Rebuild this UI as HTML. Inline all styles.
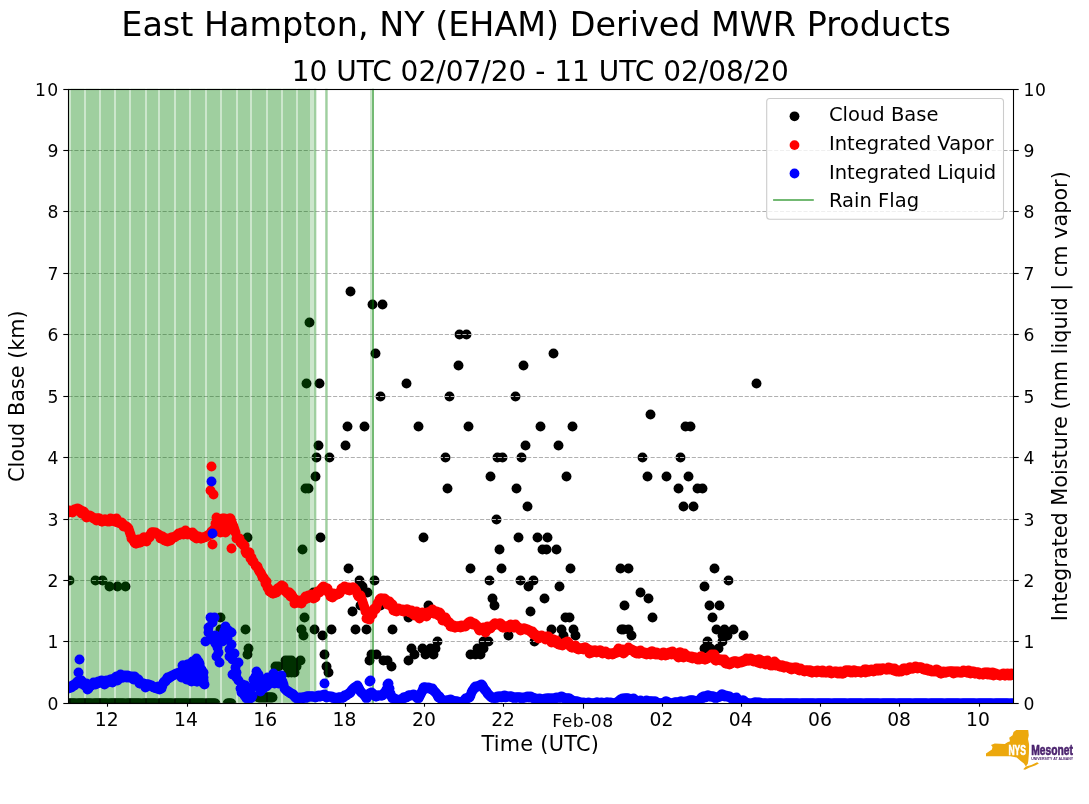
<!DOCTYPE html>
<html lang="en"><head><meta charset="utf-8"><title>East Hampton, NY (EHAM) Derived MWR Products</title>
<style>html,body{margin:0;padding:0;background:#fff;}svg{display:block;}text{font-family:"DejaVu Sans","Liberation Sans",sans-serif;fill:#000;}</style></head><body>
<svg width="1089" height="804" viewBox="0 0 1089 804">
<rect width="1089" height="804" fill="#fff"/>
<defs><clipPath id="ax"><rect x="68.4" y="88.8" width="944.6" height="614.0"/></clipPath></defs>
<g clip-path="url(#ax)">
<g fill="#000">
<circle cx="68.5" cy="703.5" r="4.95"/><circle cx="69.5" cy="703.5" r="4.95"/><circle cx="70.5" cy="703.5" r="4.95"/><circle cx="71.5" cy="703.5" r="4.95"/><circle cx="72.5" cy="703.5" r="4.95"/><circle cx="73.5" cy="703.5" r="4.95"/><circle cx="74.5" cy="703.5" r="4.95"/><circle cx="75.5" cy="703.5" r="4.95"/>
<circle cx="77.5" cy="703.5" r="4.95"/><circle cx="78.5" cy="703.5" r="4.95"/><circle cx="79.5" cy="703.5" r="4.95"/><circle cx="80.5" cy="703.5" r="4.95"/><circle cx="81.5" cy="703.5" r="4.95"/><circle cx="82.5" cy="703.5" r="4.95"/><circle cx="83.5" cy="703.5" r="4.95"/><circle cx="84.5" cy="703.5" r="4.95"/>
<circle cx="85.5" cy="703.5" r="4.95"/><circle cx="86.5" cy="703.5" r="4.95"/><circle cx="87.5" cy="703.5" r="4.95"/><circle cx="88.5" cy="703.5" r="4.95"/><circle cx="89.5" cy="703.5" r="4.95"/><circle cx="90.5" cy="703.5" r="4.95"/><circle cx="91.5" cy="703.5" r="4.95"/><circle cx="93.5" cy="703.5" r="4.95"/>
<circle cx="94.5" cy="703.5" r="4.95"/><circle cx="95.5" cy="703.5" r="4.95"/><circle cx="96.5" cy="703.5" r="4.95"/><circle cx="97.5" cy="703.5" r="4.95"/><circle cx="98.5" cy="703.5" r="4.95"/><circle cx="99.5" cy="703.5" r="4.95"/><circle cx="100.5" cy="703.5" r="4.95"/><circle cx="101.5" cy="703.5" r="4.95"/>
<circle cx="102.5" cy="703.5" r="4.95"/><circle cx="103.5" cy="703.5" r="4.95"/><circle cx="104.5" cy="703.5" r="4.95"/><circle cx="105.5" cy="703.5" r="4.95"/><circle cx="106.5" cy="703.5" r="4.95"/><circle cx="107.5" cy="703.5" r="4.95"/><circle cx="109.5" cy="703.5" r="4.95"/><circle cx="110.5" cy="703.5" r="4.95"/>
<circle cx="111.5" cy="703.5" r="4.95"/><circle cx="112.5" cy="703.5" r="4.95"/><circle cx="113.5" cy="703.5" r="4.95"/><circle cx="114.5" cy="703.5" r="4.95"/><circle cx="115.5" cy="703.5" r="4.95"/><circle cx="116.5" cy="703.5" r="4.95"/><circle cx="117.5" cy="703.5" r="4.95"/><circle cx="118.5" cy="703.5" r="4.95"/>
<circle cx="119.5" cy="703.5" r="4.95"/><circle cx="120.5" cy="703.5" r="4.95"/><circle cx="121.5" cy="703.5" r="4.95"/><circle cx="122.5" cy="703.5" r="4.95"/><circle cx="123.5" cy="703.5" r="4.95"/><circle cx="124.5" cy="703.5" r="4.95"/><circle cx="126.5" cy="703.5" r="4.95"/><circle cx="127.5" cy="703.5" r="4.95"/>
<circle cx="128.5" cy="703.5" r="4.95"/><circle cx="129.5" cy="703.5" r="4.95"/><circle cx="130.5" cy="703.5" r="4.95"/><circle cx="131.5" cy="703.5" r="4.95"/><circle cx="132.5" cy="703.5" r="4.95"/><circle cx="133.5" cy="703.5" r="4.95"/><circle cx="134.5" cy="703.5" r="4.95"/><circle cx="135.5" cy="703.5" r="4.95"/>
<circle cx="136.5" cy="703.5" r="4.95"/><circle cx="137.5" cy="703.5" r="4.95"/><circle cx="138.5" cy="703.5" r="4.95"/><circle cx="139.5" cy="703.5" r="4.95"/><circle cx="140.5" cy="703.5" r="4.95"/><circle cx="142.5" cy="703.5" r="4.95"/><circle cx="143.5" cy="703.5" r="4.95"/><circle cx="144.5" cy="703.5" r="4.95"/>
<circle cx="145.5" cy="703.5" r="4.95"/><circle cx="146.5" cy="703.5" r="4.95"/><circle cx="147.5" cy="703.5" r="4.95"/><circle cx="148.5" cy="703.5" r="4.95"/><circle cx="149.5" cy="703.5" r="4.95"/><circle cx="150.5" cy="703.5" r="4.95"/><circle cx="151.5" cy="703.5" r="4.95"/><circle cx="152.5" cy="703.5" r="4.95"/>
<circle cx="153.5" cy="703.5" r="4.95"/><circle cx="154.5" cy="703.5" r="4.95"/><circle cx="155.5" cy="703.5" r="4.95"/><circle cx="156.5" cy="703.5" r="4.95"/><circle cx="158.5" cy="703.5" r="4.95"/><circle cx="159.5" cy="703.5" r="4.95"/><circle cx="160.5" cy="703.5" r="4.95"/><circle cx="161.5" cy="703.5" r="4.95"/>
<circle cx="162.5" cy="703.5" r="4.95"/><circle cx="163.5" cy="703.5" r="4.95"/><circle cx="164.5" cy="703.5" r="4.95"/><circle cx="165.5" cy="703.5" r="4.95"/><circle cx="166.5" cy="703.5" r="4.95"/><circle cx="167.5" cy="703.5" r="4.95"/><circle cx="168.5" cy="703.5" r="4.95"/><circle cx="169.5" cy="703.5" r="4.95"/>
<circle cx="170.5" cy="703.5" r="4.95"/><circle cx="171.5" cy="703.5" r="4.95"/><circle cx="172.5" cy="703.5" r="4.95"/><circle cx="174.5" cy="703.5" r="4.95"/><circle cx="175.5" cy="703.5" r="4.95"/><circle cx="176.5" cy="703.5" r="4.95"/><circle cx="177.5" cy="703.5" r="4.95"/><circle cx="178.5" cy="703.5" r="4.95"/>
<circle cx="179.5" cy="703.5" r="4.95"/><circle cx="180.5" cy="703.5" r="4.95"/><circle cx="181.5" cy="703.5" r="4.95"/><circle cx="182.5" cy="703.5" r="4.95"/><circle cx="183.5" cy="703.5" r="4.95"/><circle cx="184.5" cy="703.5" r="4.95"/><circle cx="185.5" cy="703.5" r="4.95"/><circle cx="186.5" cy="703.5" r="4.95"/>
<circle cx="187.5" cy="703.5" r="4.95"/><circle cx="188.5" cy="703.5" r="4.95"/><circle cx="190.5" cy="703.5" r="4.95"/><circle cx="191.5" cy="703.5" r="4.95"/><circle cx="192.5" cy="703.5" r="4.95"/><circle cx="193.5" cy="703.5" r="4.95"/><circle cx="194.5" cy="703.5" r="4.95"/><circle cx="195.5" cy="703.5" r="4.95"/>
<circle cx="196.5" cy="703.5" r="4.95"/><circle cx="197.5" cy="703.5" r="4.95"/><circle cx="198.5" cy="703.5" r="4.95"/><circle cx="199.5" cy="703.5" r="4.95"/><circle cx="200.5" cy="703.5" r="4.95"/><circle cx="201.5" cy="703.5" r="4.95"/><circle cx="202.5" cy="703.5" r="4.95"/><circle cx="203.5" cy="703.5" r="4.95"/>
<circle cx="204.5" cy="703.5" r="4.95"/><circle cx="206.5" cy="703.5" r="4.95"/><circle cx="207.5" cy="703.5" r="4.95"/><circle cx="208.5" cy="703.5" r="4.95"/><circle cx="209.5" cy="703.5" r="4.95"/><circle cx="210.5" cy="703.5" r="4.95"/><circle cx="211.5" cy="703.5" r="4.95"/><circle cx="212.5" cy="703.5" r="4.95"/>
<circle cx="213.5" cy="703.5" r="4.95"/><circle cx="214.5" cy="703.5" r="4.95"/><circle cx="215.5" cy="703.5" r="4.95"/><circle cx="227.5" cy="703.5" r="4.95"/><circle cx="228.5" cy="703.5" r="4.95"/><circle cx="229.5" cy="703.5" r="4.95"/><circle cx="230.5" cy="703.5" r="4.95"/><circle cx="231.5" cy="703.5" r="4.95"/>
<circle cx="258.5" cy="697.5" r="4.95"/><circle cx="259.5" cy="697.5" r="4.95"/><circle cx="260.5" cy="697.5" r="4.95"/><circle cx="261.5" cy="697.5" r="4.95"/><circle cx="262.5" cy="697.5" r="4.95"/><circle cx="263.5" cy="697.5" r="4.95"/><circle cx="264.5" cy="697.5" r="4.95"/><circle cx="265.5" cy="697.5" r="4.95"/>
<circle cx="266.5" cy="697.5" r="4.95"/><circle cx="267.5" cy="697.5" r="4.95"/><circle cx="268.5" cy="697.5" r="4.95"/><circle cx="269.5" cy="697.5" r="4.95"/><circle cx="270.5" cy="697.5" r="4.95"/><circle cx="271.5" cy="697.5" r="4.95"/><circle cx="272.5" cy="697.5" r="4.95"/><circle cx="69.5" cy="580.5" r="4.95"/>
<circle cx="95.5" cy="580.5" r="4.95"/><circle cx="102.5" cy="580.5" r="4.95"/><circle cx="109.5" cy="586.5" r="4.95"/><circle cx="117.5" cy="586.5" r="4.95"/><circle cx="125.5" cy="586.5" r="4.95"/><circle cx="220.5" cy="617.5" r="4.95"/><circle cx="220.5" cy="629.5" r="4.95"/><circle cx="245.5" cy="629.5" r="4.95"/>
<circle cx="248.5" cy="648.5" r="4.95"/><circle cx="247.5" cy="654.5" r="4.95"/><circle cx="247.5" cy="537.5" r="4.95"/><circle cx="275.5" cy="666.5" r="4.95"/><circle cx="278.5" cy="666.5" r="4.95"/><circle cx="285.5" cy="660.5" r="4.95"/><circle cx="288.5" cy="660.5" r="4.95"/><circle cx="291.5" cy="660.5" r="4.95"/>
<circle cx="288.5" cy="672.5" r="4.95"/><circle cx="291.5" cy="672.5" r="4.95"/><circle cx="294.5" cy="672.5" r="4.95"/><circle cx="300.5" cy="660.5" r="4.95"/><circle cx="296.5" cy="666.5" r="4.95"/><circle cx="286.5" cy="666.5" r="4.95"/><circle cx="290.5" cy="666.5" r="4.95"/><circle cx="293.5" cy="666.5" r="4.95"/>
<circle cx="302.5" cy="549.5" r="4.95"/><circle cx="304.5" cy="617.5" r="4.95"/><circle cx="301.5" cy="629.5" r="4.95"/><circle cx="303.5" cy="635.5" r="4.95"/><circle cx="305.5" cy="488.5" r="4.95"/><circle cx="308.5" cy="488.5" r="4.95"/><circle cx="306.5" cy="383.5" r="4.95"/><circle cx="309.5" cy="322.5" r="4.95"/>
<circle cx="313.5" cy="592.5" r="4.95"/><circle cx="314.5" cy="629.5" r="4.95"/><circle cx="315.5" cy="476.5" r="4.95"/><circle cx="316.5" cy="457.5" r="4.95"/><circle cx="318.5" cy="445.5" r="4.95"/><circle cx="319.5" cy="383.5" r="4.95"/><circle cx="320.5" cy="537.5" r="4.95"/><circle cx="322.5" cy="635.5" r="4.95"/>
<circle cx="324.5" cy="654.5" r="4.95"/><circle cx="326.5" cy="666.5" r="4.95"/><circle cx="328.5" cy="672.5" r="4.95"/><circle cx="329.5" cy="457.5" r="4.95"/><circle cx="331.5" cy="629.5" r="4.95"/><circle cx="345.5" cy="445.5" r="4.95"/><circle cx="347.5" cy="426.5" r="4.95"/><circle cx="348.5" cy="568.5" r="4.95"/>
<circle cx="350.5" cy="291.5" r="4.95"/><circle cx="352.5" cy="611.5" r="4.95"/><circle cx="355.5" cy="629.5" r="4.95"/><circle cx="359.5" cy="580.5" r="4.95"/><circle cx="360.5" cy="605.5" r="4.95"/><circle cx="362.5" cy="586.5" r="4.95"/><circle cx="364.5" cy="426.5" r="4.95"/><circle cx="366.5" cy="629.5" r="4.95"/>
<circle cx="367.5" cy="592.5" r="4.95"/><circle cx="369.5" cy="660.5" r="4.95"/><circle cx="371.5" cy="654.5" r="4.95"/><circle cx="372.5" cy="304.5" r="4.95"/><circle cx="374.5" cy="580.5" r="4.95"/><circle cx="375.5" cy="353.5" r="4.95"/><circle cx="376.5" cy="654.5" r="4.95"/><circle cx="380.5" cy="396.5" r="4.95"/>
<circle cx="380.5" cy="605.5" r="4.95"/><circle cx="382.5" cy="304.5" r="4.95"/><circle cx="383.5" cy="660.5" r="4.95"/><circle cx="387.5" cy="660.5" r="4.95"/><circle cx="391.5" cy="666.5" r="4.95"/><circle cx="392.5" cy="629.5" r="4.95"/><circle cx="406.5" cy="383.5" r="4.95"/><circle cx="408.5" cy="617.5" r="4.95"/>
<circle cx="408.5" cy="660.5" r="4.95"/><circle cx="411.5" cy="648.5" r="4.95"/><circle cx="414.5" cy="654.5" r="4.95"/><circle cx="418.5" cy="426.5" r="4.95"/><circle cx="422.5" cy="648.5" r="4.95"/><circle cx="425.5" cy="654.5" r="4.95"/><circle cx="430.5" cy="648.5" r="4.95"/><circle cx="433.5" cy="654.5" r="4.95"/>
<circle cx="435.5" cy="648.5" r="4.95"/><circle cx="423.5" cy="537.5" r="4.95"/><circle cx="428.5" cy="605.5" r="4.95"/><circle cx="437.5" cy="641.5" r="4.95"/><circle cx="445.5" cy="457.5" r="4.95"/><circle cx="447.5" cy="488.5" r="4.95"/><circle cx="449.5" cy="396.5" r="4.95"/><circle cx="458.5" cy="365.5" r="4.95"/>
<circle cx="459.5" cy="334.5" r="4.95"/><circle cx="466.5" cy="334.5" r="4.95"/><circle cx="468.5" cy="426.5" r="4.95"/><circle cx="470.5" cy="568.5" r="4.95"/><circle cx="470.5" cy="654.5" r="4.95"/><circle cx="475.5" cy="654.5" r="4.95"/><circle cx="480.5" cy="654.5" r="4.95"/><circle cx="477.5" cy="648.5" r="4.95"/>
<circle cx="483.5" cy="648.5" r="4.95"/><circle cx="483.5" cy="641.5" r="4.95"/><circle cx="488.5" cy="641.5" r="4.95"/><circle cx="489.5" cy="580.5" r="4.95"/><circle cx="490.5" cy="476.5" r="4.95"/><circle cx="492.5" cy="598.5" r="4.95"/><circle cx="494.5" cy="605.5" r="4.95"/><circle cx="496.5" cy="519.5" r="4.95"/>
<circle cx="497.5" cy="457.5" r="4.95"/><circle cx="499.5" cy="549.5" r="4.95"/><circle cx="501.5" cy="568.5" r="4.95"/><circle cx="502.5" cy="457.5" r="4.95"/><circle cx="508.5" cy="635.5" r="4.95"/><circle cx="515.5" cy="396.5" r="4.95"/><circle cx="516.5" cy="488.5" r="4.95"/><circle cx="518.5" cy="537.5" r="4.95"/>
<circle cx="520.5" cy="580.5" r="4.95"/><circle cx="521.5" cy="457.5" r="4.95"/><circle cx="523.5" cy="365.5" r="4.95"/><circle cx="525.5" cy="445.5" r="4.95"/><circle cx="527.5" cy="506.5" r="4.95"/><circle cx="528.5" cy="586.5" r="4.95"/><circle cx="530.5" cy="611.5" r="4.95"/><circle cx="533.5" cy="580.5" r="4.95"/>
<circle cx="534.5" cy="641.5" r="4.95"/><circle cx="537.5" cy="537.5" r="4.95"/><circle cx="540.5" cy="426.5" r="4.95"/><circle cx="542.5" cy="549.5" r="4.95"/><circle cx="544.5" cy="598.5" r="4.95"/><circle cx="546.5" cy="549.5" r="4.95"/><circle cx="547.5" cy="537.5" r="4.95"/><circle cx="551.5" cy="629.5" r="4.95"/>
<circle cx="553.5" cy="353.5" r="4.95"/><circle cx="556.5" cy="549.5" r="4.95"/><circle cx="558.5" cy="445.5" r="4.95"/><circle cx="559.5" cy="586.5" r="4.95"/><circle cx="561.5" cy="629.5" r="4.95"/><circle cx="563.5" cy="635.5" r="4.95"/><circle cx="565.5" cy="617.5" r="4.95"/><circle cx="566.5" cy="476.5" r="4.95"/>
<circle cx="569.5" cy="617.5" r="4.95"/><circle cx="570.5" cy="568.5" r="4.95"/><circle cx="572.5" cy="426.5" r="4.95"/><circle cx="573.5" cy="629.5" r="4.95"/><circle cx="575.5" cy="635.5" r="4.95"/><circle cx="620.5" cy="568.5" r="4.95"/><circle cx="621.5" cy="629.5" r="4.95"/><circle cx="623.5" cy="629.5" r="4.95"/>
<circle cx="624.5" cy="605.5" r="4.95"/><circle cx="628.5" cy="568.5" r="4.95"/><circle cx="628.5" cy="629.5" r="4.95"/><circle cx="631.5" cy="635.5" r="4.95"/><circle cx="640.5" cy="592.5" r="4.95"/><circle cx="642.5" cy="457.5" r="4.95"/><circle cx="647.5" cy="476.5" r="4.95"/><circle cx="648.5" cy="598.5" r="4.95"/>
<circle cx="650.5" cy="414.5" r="4.95"/><circle cx="652.5" cy="617.5" r="4.95"/><circle cx="666.5" cy="476.5" r="4.95"/><circle cx="678.5" cy="488.5" r="4.95"/><circle cx="680.5" cy="457.5" r="4.95"/><circle cx="683.5" cy="506.5" r="4.95"/><circle cx="685.5" cy="426.5" r="4.95"/><circle cx="688.5" cy="476.5" r="4.95"/>
<circle cx="690.5" cy="426.5" r="4.95"/><circle cx="693.5" cy="506.5" r="4.95"/><circle cx="697.5" cy="488.5" r="4.95"/><circle cx="702.5" cy="488.5" r="4.95"/><circle cx="704.5" cy="586.5" r="4.95"/><circle cx="704.5" cy="648.5" r="4.95"/><circle cx="707.5" cy="641.5" r="4.95"/><circle cx="709.5" cy="605.5" r="4.95"/>
<circle cx="710.5" cy="648.5" r="4.95"/><circle cx="712.5" cy="617.5" r="4.95"/><circle cx="714.5" cy="568.5" r="4.95"/><circle cx="716.5" cy="629.5" r="4.95"/><circle cx="718.5" cy="648.5" r="4.95"/><circle cx="719.5" cy="605.5" r="4.95"/><circle cx="722.5" cy="641.5" r="4.95"/><circle cx="722.5" cy="635.5" r="4.95"/>
<circle cx="724.5" cy="629.5" r="4.95"/><circle cx="727.5" cy="635.5" r="4.95"/><circle cx="728.5" cy="580.5" r="4.95"/><circle cx="733.5" cy="629.5" r="4.95"/><circle cx="743.5" cy="635.5" r="4.95"/><circle cx="756.5" cy="383.5" r="4.95"/>
</g>
</g>
<g stroke="#b0b0b0" stroke-width="1.1" stroke-dasharray="4.1 1.78"><line x1="68.5" x2="1013.5" y1="641.5" y2="641.5"/><line x1="68.5" x2="1013.5" y1="580.5" y2="580.5"/><line x1="68.5" x2="1013.5" y1="519.5" y2="519.5"/><line x1="68.5" x2="1013.5" y1="457.5" y2="457.5"/><line x1="68.5" x2="1013.5" y1="396.5" y2="396.5"/><line x1="68.5" x2="1013.5" y1="334.5" y2="334.5"/><line x1="68.5" x2="1013.5" y1="273.5" y2="273.5"/><line x1="68.5" x2="1013.5" y1="211.5" y2="211.5"/><line x1="68.5" x2="1013.5" y1="150.5" y2="150.5"/></g>
<g fill="#008000" fill-opacity="0.2"><rect x="68.00" y="88.8" width="248.40" height="614.0"/><rect x="325.00" y="88.8" width="2.90" height="614.0"/><rect x="370.00" y="88.8" width="4.00" height="614.0"/></g>
<g fill="#008000" fill-opacity="0.221"><rect x="68.00" y="88.8" width="1.00" height="614.0"/><rect x="71.00" y="88.8" width="13.00" height="614.0"/><rect x="86.00" y="88.8" width="13.00" height="614.0"/><rect x="101.00" y="88.8" width="13.00" height="614.0"/><rect x="116.00" y="88.8" width="13.00" height="614.0"/><rect x="131.00" y="88.8" width="14.00" height="614.0"/><rect x="147.00" y="88.8" width="11.00" height="614.0"/><rect x="160.00" y="88.8" width="14.00" height="614.0"/><rect x="176.00" y="88.8" width="13.00" height="614.0"/><rect x="191.00" y="88.8" width="14.00" height="614.0"/><rect x="207.00" y="88.8" width="13.00" height="614.0"/><rect x="222.00" y="88.8" width="14.00" height="614.0"/><rect x="238.00" y="88.8" width="12.00" height="614.0"/><rect x="252.00" y="88.8" width="14.00" height="614.0"/><rect x="268.00" y="88.8" width="13.00" height="614.0"/><rect x="283.00" y="88.8" width="13.00" height="614.0"/><rect x="298.00" y="88.8" width="12.00" height="614.0"/><rect x="314.00" y="88.8" width="2.20" height="614.0"/><rect x="325.50" y="88.8" width="1.90" height="614.0"/></g>
<g fill="#008000" fill-opacity="0.43"><rect x="372.00" y="88.8" width="2.00" height="614.0"/></g>
<g clip-path="url(#ax)">
<g fill="#ff0000">
<circle cx="68.5" cy="512.5" r="4.95"/><circle cx="69.5" cy="510.5" r="4.95"/><circle cx="70.5" cy="511.5" r="4.95"/><circle cx="71.5" cy="511.5" r="4.95"/><circle cx="72.5" cy="512.5" r="4.95"/><circle cx="73.5" cy="511.5" r="4.95"/><circle cx="74.5" cy="509.5" r="4.95"/><circle cx="75.5" cy="509.5" r="4.95"/>
<circle cx="77.5" cy="508.5" r="4.95"/><circle cx="78.5" cy="509.5" r="4.95"/><circle cx="79.5" cy="509.5" r="4.95"/><circle cx="80.5" cy="510.5" r="4.95"/><circle cx="81.5" cy="513.5" r="4.95"/><circle cx="82.5" cy="511.5" r="4.95"/><circle cx="83.5" cy="511.5" r="4.95"/><circle cx="84.5" cy="512.5" r="4.95"/>
<circle cx="85.5" cy="515.5" r="4.95"/><circle cx="86.5" cy="517.5" r="4.95"/><circle cx="87.5" cy="516.5" r="4.95"/><circle cx="88.5" cy="516.5" r="4.95"/><circle cx="89.5" cy="515.5" r="4.95"/><circle cx="90.5" cy="516.5" r="4.95"/><circle cx="91.5" cy="516.5" r="4.95"/><circle cx="93.5" cy="518.5" r="4.95"/>
<circle cx="94.5" cy="518.5" r="4.95"/><circle cx="95.5" cy="518.5" r="4.95"/><circle cx="96.5" cy="520.5" r="4.95"/><circle cx="97.5" cy="518.5" r="4.95"/><circle cx="98.5" cy="518.5" r="4.95"/><circle cx="99.5" cy="518.5" r="4.95"/><circle cx="100.5" cy="520.5" r="4.95"/><circle cx="101.5" cy="521.5" r="4.95"/>
<circle cx="102.5" cy="521.5" r="4.95"/><circle cx="103.5" cy="520.5" r="4.95"/><circle cx="104.5" cy="519.5" r="4.95"/><circle cx="105.5" cy="519.5" r="4.95"/><circle cx="106.5" cy="520.5" r="4.95"/><circle cx="107.5" cy="521.5" r="4.95"/><circle cx="109.5" cy="521.5" r="4.95"/><circle cx="110.5" cy="518.5" r="4.95"/>
<circle cx="111.5" cy="520.5" r="4.95"/><circle cx="112.5" cy="519.5" r="4.95"/><circle cx="113.5" cy="519.5" r="4.95"/><circle cx="114.5" cy="521.5" r="4.95"/><circle cx="115.5" cy="520.5" r="4.95"/><circle cx="116.5" cy="518.5" r="4.95"/><circle cx="117.5" cy="522.5" r="4.95"/><circle cx="118.5" cy="522.5" r="4.95"/>
<circle cx="119.5" cy="522.5" r="4.95"/><circle cx="120.5" cy="523.5" r="4.95"/><circle cx="121.5" cy="522.5" r="4.95"/><circle cx="122.5" cy="523.5" r="4.95"/><circle cx="123.5" cy="526.5" r="4.95"/><circle cx="124.5" cy="525.5" r="4.95"/><circle cx="126.5" cy="526.5" r="4.95"/><circle cx="127.5" cy="527.5" r="4.95"/>
<circle cx="128.5" cy="528.5" r="4.95"/><circle cx="129.5" cy="531.5" r="4.95"/><circle cx="130.5" cy="534.5" r="4.95"/><circle cx="131.5" cy="538.5" r="4.95"/><circle cx="132.5" cy="538.5" r="4.95"/><circle cx="133.5" cy="540.5" r="4.95"/><circle cx="134.5" cy="542.5" r="4.95"/><circle cx="135.5" cy="543.5" r="4.95"/>
<circle cx="136.5" cy="543.5" r="4.95"/><circle cx="137.5" cy="542.5" r="4.95"/><circle cx="138.5" cy="539.5" r="4.95"/><circle cx="139.5" cy="542.5" r="4.95"/><circle cx="140.5" cy="542.5" r="4.95"/><circle cx="142.5" cy="540.5" r="4.95"/><circle cx="143.5" cy="537.5" r="4.95"/><circle cx="144.5" cy="537.5" r="4.95"/>
<circle cx="145.5" cy="540.5" r="4.95"/><circle cx="146.5" cy="541.5" r="4.95"/><circle cx="147.5" cy="537.5" r="4.95"/><circle cx="148.5" cy="537.5" r="4.95"/><circle cx="149.5" cy="537.5" r="4.95"/><circle cx="150.5" cy="534.5" r="4.95"/><circle cx="151.5" cy="532.5" r="4.95"/><circle cx="152.5" cy="532.5" r="4.95"/>
<circle cx="153.5" cy="532.5" r="4.95"/><circle cx="154.5" cy="533.5" r="4.95"/><circle cx="155.5" cy="532.5" r="4.95"/><circle cx="156.5" cy="533.5" r="4.95"/><circle cx="158.5" cy="534.5" r="4.95"/><circle cx="159.5" cy="535.5" r="4.95"/><circle cx="160.5" cy="538.5" r="4.95"/><circle cx="161.5" cy="536.5" r="4.95"/>
<circle cx="162.5" cy="536.5" r="4.95"/><circle cx="163.5" cy="537.5" r="4.95"/><circle cx="164.5" cy="540.5" r="4.95"/><circle cx="165.5" cy="540.5" r="4.95"/><circle cx="166.5" cy="538.5" r="4.95"/><circle cx="167.5" cy="541.5" r="4.95"/><circle cx="168.5" cy="539.5" r="4.95"/><circle cx="169.5" cy="538.5" r="4.95"/>
<circle cx="170.5" cy="540.5" r="4.95"/><circle cx="171.5" cy="537.5" r="4.95"/><circle cx="172.5" cy="537.5" r="4.95"/><circle cx="174.5" cy="537.5" r="4.95"/><circle cx="175.5" cy="536.5" r="4.95"/><circle cx="176.5" cy="535.5" r="4.95"/><circle cx="177.5" cy="535.5" r="4.95"/><circle cx="178.5" cy="533.5" r="4.95"/>
<circle cx="179.5" cy="534.5" r="4.95"/><circle cx="180.5" cy="534.5" r="4.95"/><circle cx="181.5" cy="532.5" r="4.95"/><circle cx="182.5" cy="533.5" r="4.95"/><circle cx="183.5" cy="534.5" r="4.95"/><circle cx="184.5" cy="532.5" r="4.95"/><circle cx="185.5" cy="530.5" r="4.95"/><circle cx="186.5" cy="532.5" r="4.95"/>
<circle cx="187.5" cy="534.5" r="4.95"/><circle cx="188.5" cy="533.5" r="4.95"/><circle cx="190.5" cy="533.5" r="4.95"/><circle cx="191.5" cy="534.5" r="4.95"/><circle cx="192.5" cy="532.5" r="4.95"/><circle cx="193.5" cy="536.5" r="4.95"/><circle cx="194.5" cy="534.5" r="4.95"/><circle cx="195.5" cy="537.5" r="4.95"/>
<circle cx="196.5" cy="538.5" r="4.95"/><circle cx="197.5" cy="537.5" r="4.95"/><circle cx="198.5" cy="536.5" r="4.95"/><circle cx="199.5" cy="537.5" r="4.95"/><circle cx="200.5" cy="538.5" r="4.95"/><circle cx="201.5" cy="538.5" r="4.95"/><circle cx="202.5" cy="537.5" r="4.95"/><circle cx="203.5" cy="537.5" r="4.95"/>
<circle cx="204.5" cy="537.5" r="4.95"/><circle cx="206.5" cy="536.5" r="4.95"/><circle cx="207.5" cy="535.5" r="4.95"/><circle cx="208.5" cy="535.5" r="4.95"/><circle cx="209.5" cy="534.5" r="4.95"/><circle cx="210.5" cy="534.5" r="4.95"/><circle cx="211.5" cy="531.5" r="4.95"/><circle cx="212.5" cy="532.5" r="4.95"/>
<circle cx="213.5" cy="532.5" r="4.95"/><circle cx="214.5" cy="528.5" r="4.95"/><circle cx="215.5" cy="523.5" r="4.95"/><circle cx="216.5" cy="517.5" r="4.95"/><circle cx="217.5" cy="520.5" r="4.95"/><circle cx="218.5" cy="521.5" r="4.95"/><circle cx="219.5" cy="521.5" r="4.95"/><circle cx="220.5" cy="528.5" r="4.95"/>
<circle cx="222.5" cy="529.5" r="4.95"/><circle cx="223.5" cy="527.5" r="4.95"/><circle cx="224.5" cy="525.5" r="4.95"/><circle cx="225.5" cy="523.5" r="4.95"/><circle cx="226.5" cy="523.5" r="4.95"/><circle cx="227.5" cy="520.5" r="4.95"/><circle cx="228.5" cy="519.5" r="4.95"/><circle cx="229.5" cy="521.5" r="4.95"/>
<circle cx="230.5" cy="518.5" r="4.95"/><circle cx="231.5" cy="521.5" r="4.95"/><circle cx="232.5" cy="524.5" r="4.95"/><circle cx="233.5" cy="526.5" r="4.95"/><circle cx="234.5" cy="529.5" r="4.95"/><circle cx="235.5" cy="532.5" r="4.95"/><circle cx="236.5" cy="538.5" r="4.95"/><circle cx="237.5" cy="538.5" r="4.95"/>
<circle cx="239.5" cy="538.5" r="4.95"/><circle cx="240.5" cy="542.5" r="4.95"/><circle cx="241.5" cy="543.5" r="4.95"/><circle cx="242.5" cy="543.5" r="4.95"/><circle cx="243.5" cy="545.5" r="4.95"/><circle cx="244.5" cy="545.5" r="4.95"/><circle cx="245.5" cy="551.5" r="4.95"/><circle cx="246.5" cy="553.5" r="4.95"/>
<circle cx="247.5" cy="553.5" r="4.95"/><circle cx="248.5" cy="552.5" r="4.95"/><circle cx="249.5" cy="552.5" r="4.95"/><circle cx="250.5" cy="558.5" r="4.95"/><circle cx="251.5" cy="557.5" r="4.95"/><circle cx="252.5" cy="561.5" r="4.95"/><circle cx="253.5" cy="561.5" r="4.95"/><circle cx="255.5" cy="565.5" r="4.95"/>
<circle cx="256.5" cy="566.5" r="4.95"/><circle cx="257.5" cy="566.5" r="4.95"/><circle cx="258.5" cy="569.5" r="4.95"/><circle cx="259.5" cy="571.5" r="4.95"/><circle cx="260.5" cy="572.5" r="4.95"/><circle cx="261.5" cy="574.5" r="4.95"/><circle cx="262.5" cy="577.5" r="4.95"/><circle cx="263.5" cy="577.5" r="4.95"/>
<circle cx="264.5" cy="579.5" r="4.95"/><circle cx="265.5" cy="583.5" r="4.95"/><circle cx="266.5" cy="581.5" r="4.95"/><circle cx="267.5" cy="587.5" r="4.95"/><circle cx="268.5" cy="588.5" r="4.95"/><circle cx="269.5" cy="591.5" r="4.95"/><circle cx="271.5" cy="592.5" r="4.95"/><circle cx="272.5" cy="593.5" r="4.95"/>
<circle cx="273.5" cy="593.5" r="4.95"/><circle cx="274.5" cy="591.5" r="4.95"/><circle cx="275.5" cy="592.5" r="4.95"/><circle cx="276.5" cy="592.5" r="4.95"/><circle cx="277.5" cy="588.5" r="4.95"/><circle cx="278.5" cy="588.5" r="4.95"/><circle cx="279.5" cy="587.5" r="4.95"/><circle cx="280.5" cy="588.5" r="4.95"/>
<circle cx="281.5" cy="585.5" r="4.95"/><circle cx="282.5" cy="586.5" r="4.95"/><circle cx="283.5" cy="586.5" r="4.95"/><circle cx="284.5" cy="590.5" r="4.95"/><circle cx="285.5" cy="591.5" r="4.95"/><circle cx="287.5" cy="593.5" r="4.95"/><circle cx="288.5" cy="592.5" r="4.95"/><circle cx="289.5" cy="592.5" r="4.95"/>
<circle cx="290.5" cy="596.5" r="4.95"/><circle cx="291.5" cy="594.5" r="4.95"/><circle cx="292.5" cy="596.5" r="4.95"/><circle cx="293.5" cy="598.5" r="4.95"/><circle cx="294.5" cy="603.5" r="4.95"/><circle cx="295.5" cy="599.5" r="4.95"/><circle cx="296.5" cy="601.5" r="4.95"/><circle cx="297.5" cy="602.5" r="4.95"/>
<circle cx="298.5" cy="602.5" r="4.95"/><circle cx="299.5" cy="602.5" r="4.95"/><circle cx="300.5" cy="600.5" r="4.95"/><circle cx="301.5" cy="603.5" r="4.95"/><circle cx="303.5" cy="600.5" r="4.95"/><circle cx="304.5" cy="598.5" r="4.95"/><circle cx="305.5" cy="596.5" r="4.95"/><circle cx="306.5" cy="598.5" r="4.95"/>
<circle cx="307.5" cy="598.5" r="4.95"/><circle cx="308.5" cy="595.5" r="4.95"/><circle cx="309.5" cy="596.5" r="4.95"/><circle cx="310.5" cy="596.5" r="4.95"/><circle cx="311.5" cy="594.5" r="4.95"/><circle cx="312.5" cy="595.5" r="4.95"/><circle cx="313.5" cy="598.5" r="4.95"/><circle cx="314.5" cy="596.5" r="4.95"/>
<circle cx="315.5" cy="597.5" r="4.95"/><circle cx="316.5" cy="593.5" r="4.95"/><circle cx="317.5" cy="591.5" r="4.95"/><circle cx="319.5" cy="592.5" r="4.95"/><circle cx="320.5" cy="590.5" r="4.95"/><circle cx="321.5" cy="588.5" r="4.95"/><circle cx="322.5" cy="587.5" r="4.95"/><circle cx="323.5" cy="586.5" r="4.95"/>
<circle cx="324.5" cy="588.5" r="4.95"/><circle cx="325.5" cy="588.5" r="4.95"/><circle cx="326.5" cy="588.5" r="4.95"/><circle cx="327.5" cy="588.5" r="4.95"/><circle cx="328.5" cy="592.5" r="4.95"/><circle cx="329.5" cy="592.5" r="4.95"/><circle cx="330.5" cy="596.5" r="4.95"/><circle cx="331.5" cy="596.5" r="4.95"/>
<circle cx="332.5" cy="597.5" r="4.95"/><circle cx="333.5" cy="593.5" r="4.95"/><circle cx="334.5" cy="595.5" r="4.95"/><circle cx="336.5" cy="594.5" r="4.95"/><circle cx="337.5" cy="594.5" r="4.95"/><circle cx="338.5" cy="593.5" r="4.95"/><circle cx="339.5" cy="593.5" r="4.95"/><circle cx="340.5" cy="591.5" r="4.95"/>
<circle cx="341.5" cy="588.5" r="4.95"/><circle cx="342.5" cy="589.5" r="4.95"/><circle cx="343.5" cy="588.5" r="4.95"/><circle cx="344.5" cy="586.5" r="4.95"/><circle cx="345.5" cy="587.5" r="4.95"/><circle cx="346.5" cy="589.5" r="4.95"/><circle cx="347.5" cy="589.5" r="4.95"/><circle cx="348.5" cy="587.5" r="4.95"/>
<circle cx="349.5" cy="590.5" r="4.95"/><circle cx="350.5" cy="589.5" r="4.95"/><circle cx="352.5" cy="587.5" r="4.95"/><circle cx="353.5" cy="587.5" r="4.95"/><circle cx="354.5" cy="589.5" r="4.95"/><circle cx="355.5" cy="589.5" r="4.95"/><circle cx="356.5" cy="591.5" r="4.95"/><circle cx="357.5" cy="594.5" r="4.95"/>
<circle cx="358.5" cy="596.5" r="4.95"/><circle cx="359.5" cy="596.5" r="4.95"/><circle cx="360.5" cy="595.5" r="4.95"/><circle cx="361.5" cy="598.5" r="4.95"/><circle cx="362.5" cy="601.5" r="4.95"/><circle cx="363.5" cy="604.5" r="4.95"/><circle cx="364.5" cy="607.5" r="4.95"/><circle cx="365.5" cy="611.5" r="4.95"/>
<circle cx="366.5" cy="618.5" r="4.95"/><circle cx="368.5" cy="618.5" r="4.95"/><circle cx="369.5" cy="619.5" r="4.95"/><circle cx="370.5" cy="615.5" r="4.95"/><circle cx="371.5" cy="614.5" r="4.95"/><circle cx="372.5" cy="614.5" r="4.95"/><circle cx="373.5" cy="609.5" r="4.95"/><circle cx="374.5" cy="608.5" r="4.95"/>
<circle cx="375.5" cy="609.5" r="4.95"/><circle cx="376.5" cy="607.5" r="4.95"/><circle cx="377.5" cy="603.5" r="4.95"/><circle cx="378.5" cy="602.5" r="4.95"/><circle cx="379.5" cy="599.5" r="4.95"/><circle cx="380.5" cy="598.5" r="4.95"/><circle cx="381.5" cy="598.5" r="4.95"/><circle cx="382.5" cy="599.5" r="4.95"/>
<circle cx="384.5" cy="598.5" r="4.95"/><circle cx="385.5" cy="599.5" r="4.95"/><circle cx="386.5" cy="600.5" r="4.95"/><circle cx="387.5" cy="604.5" r="4.95"/><circle cx="388.5" cy="602.5" r="4.95"/><circle cx="389.5" cy="601.5" r="4.95"/><circle cx="390.5" cy="603.5" r="4.95"/><circle cx="391.5" cy="606.5" r="4.95"/>
<circle cx="392.5" cy="604.5" r="4.95"/><circle cx="393.5" cy="610.5" r="4.95"/><circle cx="394.5" cy="610.5" r="4.95"/><circle cx="395.5" cy="608.5" r="4.95"/><circle cx="396.5" cy="611.5" r="4.95"/><circle cx="397.5" cy="610.5" r="4.95"/><circle cx="398.5" cy="608.5" r="4.95"/><circle cx="400.5" cy="610.5" r="4.95"/>
<circle cx="401.5" cy="610.5" r="4.95"/><circle cx="402.5" cy="609.5" r="4.95"/><circle cx="403.5" cy="611.5" r="4.95"/><circle cx="404.5" cy="611.5" r="4.95"/><circle cx="405.5" cy="610.5" r="4.95"/><circle cx="406.5" cy="609.5" r="4.95"/><circle cx="407.5" cy="609.5" r="4.95"/><circle cx="408.5" cy="610.5" r="4.95"/>
<circle cx="409.5" cy="612.5" r="4.95"/><circle cx="410.5" cy="612.5" r="4.95"/><circle cx="411.5" cy="610.5" r="4.95"/><circle cx="412.5" cy="612.5" r="4.95"/><circle cx="413.5" cy="614.5" r="4.95"/><circle cx="414.5" cy="615.5" r="4.95"/><circle cx="416.5" cy="611.5" r="4.95"/><circle cx="417.5" cy="612.5" r="4.95"/>
<circle cx="418.5" cy="613.5" r="4.95"/><circle cx="419.5" cy="618.5" r="4.95"/><circle cx="420.5" cy="615.5" r="4.95"/><circle cx="421.5" cy="614.5" r="4.95"/><circle cx="422.5" cy="612.5" r="4.95"/><circle cx="423.5" cy="613.5" r="4.95"/><circle cx="424.5" cy="613.5" r="4.95"/><circle cx="425.5" cy="613.5" r="4.95"/>
<circle cx="426.5" cy="616.5" r="4.95"/><circle cx="427.5" cy="612.5" r="4.95"/><circle cx="428.5" cy="612.5" r="4.95"/><circle cx="429.5" cy="613.5" r="4.95"/><circle cx="430.5" cy="611.5" r="4.95"/><circle cx="432.5" cy="609.5" r="4.95"/><circle cx="433.5" cy="613.5" r="4.95"/><circle cx="434.5" cy="613.5" r="4.95"/>
<circle cx="435.5" cy="612.5" r="4.95"/><circle cx="436.5" cy="611.5" r="4.95"/><circle cx="437.5" cy="613.5" r="4.95"/><circle cx="438.5" cy="615.5" r="4.95"/><circle cx="439.5" cy="612.5" r="4.95"/><circle cx="440.5" cy="613.5" r="4.95"/><circle cx="441.5" cy="617.5" r="4.95"/><circle cx="442.5" cy="620.5" r="4.95"/>
<circle cx="443.5" cy="617.5" r="4.95"/><circle cx="444.5" cy="618.5" r="4.95"/><circle cx="445.5" cy="617.5" r="4.95"/><circle cx="446.5" cy="619.5" r="4.95"/><circle cx="447.5" cy="622.5" r="4.95"/><circle cx="449.5" cy="622.5" r="4.95"/><circle cx="450.5" cy="626.5" r="4.95"/><circle cx="451.5" cy="626.5" r="4.95"/>
<circle cx="452.5" cy="625.5" r="4.95"/><circle cx="453.5" cy="625.5" r="4.95"/><circle cx="454.5" cy="627.5" r="4.95"/><circle cx="455.5" cy="627.5" r="4.95"/><circle cx="456.5" cy="626.5" r="4.95"/><circle cx="457.5" cy="626.5" r="4.95"/><circle cx="458.5" cy="626.5" r="4.95"/><circle cx="459.5" cy="626.5" r="4.95"/>
<circle cx="460.5" cy="627.5" r="4.95"/><circle cx="461.5" cy="625.5" r="4.95"/><circle cx="462.5" cy="626.5" r="4.95"/><circle cx="463.5" cy="626.5" r="4.95"/><circle cx="465.5" cy="626.5" r="4.95"/><circle cx="466.5" cy="624.5" r="4.95"/><circle cx="467.5" cy="624.5" r="4.95"/><circle cx="468.5" cy="622.5" r="4.95"/>
<circle cx="469.5" cy="622.5" r="4.95"/><circle cx="470.5" cy="621.5" r="4.95"/><circle cx="471.5" cy="622.5" r="4.95"/><circle cx="472.5" cy="624.5" r="4.95"/><circle cx="473.5" cy="623.5" r="4.95"/><circle cx="474.5" cy="623.5" r="4.95"/><circle cx="475.5" cy="624.5" r="4.95"/><circle cx="476.5" cy="625.5" r="4.95"/>
<circle cx="477.5" cy="626.5" r="4.95"/><circle cx="478.5" cy="628.5" r="4.95"/><circle cx="479.5" cy="630.5" r="4.95"/><circle cx="481.5" cy="628.5" r="4.95"/><circle cx="482.5" cy="629.5" r="4.95"/><circle cx="483.5" cy="627.5" r="4.95"/><circle cx="484.5" cy="629.5" r="4.95"/><circle cx="485.5" cy="632.5" r="4.95"/>
<circle cx="486.5" cy="630.5" r="4.95"/><circle cx="487.5" cy="626.5" r="4.95"/><circle cx="488.5" cy="627.5" r="4.95"/><circle cx="489.5" cy="628.5" r="4.95"/><circle cx="490.5" cy="628.5" r="4.95"/><circle cx="491.5" cy="626.5" r="4.95"/><circle cx="492.5" cy="625.5" r="4.95"/><circle cx="493.5" cy="625.5" r="4.95"/>
<circle cx="494.5" cy="623.5" r="4.95"/><circle cx="495.5" cy="623.5" r="4.95"/><circle cx="497.5" cy="624.5" r="4.95"/><circle cx="498.5" cy="624.5" r="4.95"/><circle cx="499.5" cy="623.5" r="4.95"/><circle cx="500.5" cy="623.5" r="4.95"/><circle cx="501.5" cy="624.5" r="4.95"/><circle cx="502.5" cy="627.5" r="4.95"/>
<circle cx="503.5" cy="627.5" r="4.95"/><circle cx="504.5" cy="626.5" r="4.95"/><circle cx="505.5" cy="627.5" r="4.95"/><circle cx="506.5" cy="626.5" r="4.95"/><circle cx="507.5" cy="626.5" r="4.95"/><circle cx="508.5" cy="626.5" r="4.95"/><circle cx="509.5" cy="627.5" r="4.95"/><circle cx="510.5" cy="624.5" r="4.95"/>
<circle cx="511.5" cy="625.5" r="4.95"/><circle cx="513.5" cy="627.5" r="4.95"/><circle cx="514.5" cy="627.5" r="4.95"/><circle cx="515.5" cy="624.5" r="4.95"/><circle cx="516.5" cy="627.5" r="4.95"/><circle cx="517.5" cy="627.5" r="4.95"/><circle cx="518.5" cy="627.5" r="4.95"/><circle cx="519.5" cy="628.5" r="4.95"/>
<circle cx="520.5" cy="630.5" r="4.95"/><circle cx="521.5" cy="629.5" r="4.95"/><circle cx="522.5" cy="629.5" r="4.95"/><circle cx="523.5" cy="628.5" r="4.95"/><circle cx="524.5" cy="628.5" r="4.95"/><circle cx="525.5" cy="629.5" r="4.95"/><circle cx="526.5" cy="629.5" r="4.95"/><circle cx="527.5" cy="629.5" r="4.95"/>
<circle cx="529.5" cy="630.5" r="4.95"/><circle cx="530.5" cy="631.5" r="4.95"/><circle cx="531.5" cy="632.5" r="4.95"/><circle cx="532.5" cy="631.5" r="4.95"/><circle cx="533.5" cy="634.5" r="4.95"/><circle cx="534.5" cy="634.5" r="4.95"/><circle cx="535.5" cy="634.5" r="4.95"/><circle cx="536.5" cy="636.5" r="4.95"/>
<circle cx="537.5" cy="636.5" r="4.95"/><circle cx="538.5" cy="638.5" r="4.95"/><circle cx="539.5" cy="637.5" r="4.95"/><circle cx="540.5" cy="636.5" r="4.95"/><circle cx="541.5" cy="635.5" r="4.95"/><circle cx="542.5" cy="636.5" r="4.95"/><circle cx="543.5" cy="637.5" r="4.95"/><circle cx="545.5" cy="639.5" r="4.95"/>
<circle cx="546.5" cy="636.5" r="4.95"/><circle cx="547.5" cy="637.5" r="4.95"/><circle cx="548.5" cy="636.5" r="4.95"/><circle cx="549.5" cy="639.5" r="4.95"/><circle cx="550.5" cy="639.5" r="4.95"/><circle cx="551.5" cy="642.5" r="4.95"/><circle cx="552.5" cy="639.5" r="4.95"/><circle cx="553.5" cy="639.5" r="4.95"/>
<circle cx="554.5" cy="642.5" r="4.95"/><circle cx="555.5" cy="641.5" r="4.95"/><circle cx="556.5" cy="640.5" r="4.95"/><circle cx="557.5" cy="643.5" r="4.95"/><circle cx="558.5" cy="644.5" r="4.95"/><circle cx="559.5" cy="644.5" r="4.95"/><circle cx="560.5" cy="644.5" r="4.95"/><circle cx="562.5" cy="645.5" r="4.95"/>
<circle cx="563.5" cy="643.5" r="4.95"/><circle cx="564.5" cy="643.5" r="4.95"/><circle cx="565.5" cy="642.5" r="4.95"/><circle cx="566.5" cy="642.5" r="4.95"/><circle cx="567.5" cy="641.5" r="4.95"/><circle cx="568.5" cy="642.5" r="4.95"/><circle cx="569.5" cy="645.5" r="4.95"/><circle cx="570.5" cy="646.5" r="4.95"/>
<circle cx="571.5" cy="647.5" r="4.95"/><circle cx="572.5" cy="647.5" r="4.95"/><circle cx="573.5" cy="646.5" r="4.95"/><circle cx="574.5" cy="646.5" r="4.95"/><circle cx="575.5" cy="645.5" r="4.95"/><circle cx="576.5" cy="648.5" r="4.95"/><circle cx="578.5" cy="649.5" r="4.95"/><circle cx="579.5" cy="648.5" r="4.95"/>
<circle cx="580.5" cy="648.5" r="4.95"/><circle cx="581.5" cy="648.5" r="4.95"/><circle cx="582.5" cy="648.5" r="4.95"/><circle cx="583.5" cy="649.5" r="4.95"/><circle cx="584.5" cy="647.5" r="4.95"/><circle cx="585.5" cy="647.5" r="4.95"/><circle cx="586.5" cy="648.5" r="4.95"/><circle cx="587.5" cy="649.5" r="4.95"/>
<circle cx="588.5" cy="649.5" r="4.95"/><circle cx="589.5" cy="653.5" r="4.95"/><circle cx="590.5" cy="652.5" r="4.95"/><circle cx="591.5" cy="650.5" r="4.95"/><circle cx="592.5" cy="652.5" r="4.95"/><circle cx="594.5" cy="650.5" r="4.95"/><circle cx="595.5" cy="650.5" r="4.95"/><circle cx="596.5" cy="652.5" r="4.95"/>
<circle cx="597.5" cy="651.5" r="4.95"/><circle cx="598.5" cy="651.5" r="4.95"/><circle cx="599.5" cy="650.5" r="4.95"/><circle cx="600.5" cy="650.5" r="4.95"/><circle cx="601.5" cy="651.5" r="4.95"/><circle cx="602.5" cy="653.5" r="4.95"/><circle cx="603.5" cy="652.5" r="4.95"/><circle cx="604.5" cy="652.5" r="4.95"/>
<circle cx="605.5" cy="651.5" r="4.95"/><circle cx="606.5" cy="652.5" r="4.95"/><circle cx="607.5" cy="653.5" r="4.95"/><circle cx="608.5" cy="654.5" r="4.95"/><circle cx="610.5" cy="653.5" r="4.95"/><circle cx="611.5" cy="653.5" r="4.95"/><circle cx="612.5" cy="654.5" r="4.95"/><circle cx="613.5" cy="653.5" r="4.95"/>
<circle cx="614.5" cy="653.5" r="4.95"/><circle cx="615.5" cy="652.5" r="4.95"/><circle cx="616.5" cy="651.5" r="4.95"/><circle cx="617.5" cy="652.5" r="4.95"/><circle cx="618.5" cy="648.5" r="4.95"/><circle cx="619.5" cy="651.5" r="4.95"/><circle cx="620.5" cy="650.5" r="4.95"/><circle cx="621.5" cy="650.5" r="4.95"/>
<circle cx="622.5" cy="649.5" r="4.95"/><circle cx="623.5" cy="653.5" r="4.95"/><circle cx="624.5" cy="652.5" r="4.95"/><circle cx="626.5" cy="650.5" r="4.95"/><circle cx="627.5" cy="650.5" r="4.95"/><circle cx="628.5" cy="647.5" r="4.95"/><circle cx="629.5" cy="649.5" r="4.95"/><circle cx="630.5" cy="649.5" r="4.95"/>
<circle cx="631.5" cy="649.5" r="4.95"/><circle cx="632.5" cy="650.5" r="4.95"/><circle cx="633.5" cy="650.5" r="4.95"/><circle cx="634.5" cy="652.5" r="4.95"/><circle cx="635.5" cy="651.5" r="4.95"/><circle cx="636.5" cy="653.5" r="4.95"/><circle cx="637.5" cy="651.5" r="4.95"/><circle cx="638.5" cy="653.5" r="4.95"/>
<circle cx="639.5" cy="653.5" r="4.95"/><circle cx="640.5" cy="650.5" r="4.95"/><circle cx="642.5" cy="652.5" r="4.95"/><circle cx="643.5" cy="653.5" r="4.95"/><circle cx="644.5" cy="652.5" r="4.95"/><circle cx="645.5" cy="653.5" r="4.95"/><circle cx="646.5" cy="654.5" r="4.95"/><circle cx="647.5" cy="653.5" r="4.95"/>
<circle cx="648.5" cy="653.5" r="4.95"/><circle cx="649.5" cy="652.5" r="4.95"/><circle cx="650.5" cy="654.5" r="4.95"/><circle cx="651.5" cy="651.5" r="4.95"/><circle cx="652.5" cy="651.5" r="4.95"/><circle cx="653.5" cy="653.5" r="4.95"/><circle cx="654.5" cy="653.5" r="4.95"/><circle cx="655.5" cy="654.5" r="4.95"/>
<circle cx="656.5" cy="652.5" r="4.95"/><circle cx="657.5" cy="654.5" r="4.95"/><circle cx="659.5" cy="653.5" r="4.95"/><circle cx="660.5" cy="654.5" r="4.95"/><circle cx="661.5" cy="655.5" r="4.95"/><circle cx="662.5" cy="653.5" r="4.95"/><circle cx="663.5" cy="652.5" r="4.95"/><circle cx="664.5" cy="653.5" r="4.95"/>
<circle cx="665.5" cy="655.5" r="4.95"/><circle cx="666.5" cy="653.5" r="4.95"/><circle cx="667.5" cy="654.5" r="4.95"/><circle cx="668.5" cy="654.5" r="4.95"/><circle cx="669.5" cy="652.5" r="4.95"/><circle cx="670.5" cy="652.5" r="4.95"/><circle cx="671.5" cy="654.5" r="4.95"/><circle cx="672.5" cy="651.5" r="4.95"/>
<circle cx="673.5" cy="653.5" r="4.95"/><circle cx="675.5" cy="653.5" r="4.95"/><circle cx="676.5" cy="655.5" r="4.95"/><circle cx="677.5" cy="654.5" r="4.95"/><circle cx="678.5" cy="657.5" r="4.95"/><circle cx="679.5" cy="652.5" r="4.95"/><circle cx="680.5" cy="652.5" r="4.95"/><circle cx="681.5" cy="655.5" r="4.95"/>
<circle cx="682.5" cy="656.5" r="4.95"/><circle cx="683.5" cy="657.5" r="4.95"/><circle cx="684.5" cy="653.5" r="4.95"/><circle cx="685.5" cy="655.5" r="4.95"/><circle cx="686.5" cy="655.5" r="4.95"/><circle cx="687.5" cy="656.5" r="4.95"/><circle cx="688.5" cy="656.5" r="4.95"/><circle cx="689.5" cy="657.5" r="4.95"/>
<circle cx="691.5" cy="656.5" r="4.95"/><circle cx="692.5" cy="658.5" r="4.95"/><circle cx="693.5" cy="657.5" r="4.95"/><circle cx="694.5" cy="657.5" r="4.95"/><circle cx="695.5" cy="657.5" r="4.95"/><circle cx="696.5" cy="658.5" r="4.95"/><circle cx="697.5" cy="659.5" r="4.95"/><circle cx="698.5" cy="658.5" r="4.95"/>
<circle cx="699.5" cy="659.5" r="4.95"/><circle cx="700.5" cy="656.5" r="4.95"/><circle cx="701.5" cy="656.5" r="4.95"/><circle cx="702.5" cy="657.5" r="4.95"/><circle cx="703.5" cy="658.5" r="4.95"/><circle cx="704.5" cy="659.5" r="4.95"/><circle cx="705.5" cy="659.5" r="4.95"/><circle cx="707.5" cy="658.5" r="4.95"/>
<circle cx="708.5" cy="657.5" r="4.95"/><circle cx="709.5" cy="656.5" r="4.95"/><circle cx="710.5" cy="656.5" r="4.95"/><circle cx="711.5" cy="654.5" r="4.95"/><circle cx="712.5" cy="657.5" r="4.95"/><circle cx="713.5" cy="658.5" r="4.95"/><circle cx="714.5" cy="654.5" r="4.95"/><circle cx="715.5" cy="660.5" r="4.95"/>
<circle cx="716.5" cy="660.5" r="4.95"/><circle cx="717.5" cy="659.5" r="4.95"/><circle cx="718.5" cy="659.5" r="4.95"/><circle cx="719.5" cy="659.5" r="4.95"/><circle cx="720.5" cy="660.5" r="4.95"/><circle cx="721.5" cy="659.5" r="4.95"/><circle cx="723.5" cy="660.5" r="4.95"/><circle cx="724.5" cy="659.5" r="4.95"/>
<circle cx="725.5" cy="663.5" r="4.95"/><circle cx="726.5" cy="663.5" r="4.95"/><circle cx="727.5" cy="662.5" r="4.95"/><circle cx="728.5" cy="663.5" r="4.95"/><circle cx="729.5" cy="664.5" r="4.95"/><circle cx="730.5" cy="662.5" r="4.95"/><circle cx="731.5" cy="663.5" r="4.95"/><circle cx="732.5" cy="662.5" r="4.95"/>
<circle cx="733.5" cy="661.5" r="4.95"/><circle cx="734.5" cy="661.5" r="4.95"/><circle cx="735.5" cy="661.5" r="4.95"/><circle cx="736.5" cy="661.5" r="4.95"/><circle cx="737.5" cy="663.5" r="4.95"/><circle cx="739.5" cy="662.5" r="4.95"/><circle cx="740.5" cy="661.5" r="4.95"/><circle cx="741.5" cy="662.5" r="4.95"/>
<circle cx="742.5" cy="661.5" r="4.95"/><circle cx="743.5" cy="660.5" r="4.95"/><circle cx="744.5" cy="661.5" r="4.95"/><circle cx="745.5" cy="660.5" r="4.95"/><circle cx="746.5" cy="658.5" r="4.95"/><circle cx="747.5" cy="660.5" r="4.95"/><circle cx="748.5" cy="660.5" r="4.95"/><circle cx="749.5" cy="660.5" r="4.95"/>
<circle cx="750.5" cy="658.5" r="4.95"/><circle cx="751.5" cy="659.5" r="4.95"/><circle cx="752.5" cy="659.5" r="4.95"/><circle cx="753.5" cy="661.5" r="4.95"/><circle cx="755.5" cy="660.5" r="4.95"/><circle cx="756.5" cy="660.5" r="4.95"/><circle cx="757.5" cy="662.5" r="4.95"/><circle cx="758.5" cy="659.5" r="4.95"/>
<circle cx="759.5" cy="659.5" r="4.95"/><circle cx="760.5" cy="663.5" r="4.95"/><circle cx="761.5" cy="660.5" r="4.95"/><circle cx="762.5" cy="661.5" r="4.95"/><circle cx="763.5" cy="661.5" r="4.95"/><circle cx="764.5" cy="661.5" r="4.95"/><circle cx="765.5" cy="664.5" r="4.95"/><circle cx="766.5" cy="663.5" r="4.95"/>
<circle cx="767.5" cy="660.5" r="4.95"/><circle cx="768.5" cy="663.5" r="4.95"/><circle cx="769.5" cy="664.5" r="4.95"/><circle cx="770.5" cy="665.5" r="4.95"/><circle cx="772.5" cy="665.5" r="4.95"/><circle cx="773.5" cy="664.5" r="4.95"/><circle cx="774.5" cy="661.5" r="4.95"/><circle cx="775.5" cy="665.5" r="4.95"/>
<circle cx="776.5" cy="663.5" r="4.95"/><circle cx="777.5" cy="664.5" r="4.95"/><circle cx="778.5" cy="665.5" r="4.95"/><circle cx="779.5" cy="666.5" r="4.95"/><circle cx="780.5" cy="666.5" r="4.95"/><circle cx="781.5" cy="665.5" r="4.95"/><circle cx="782.5" cy="665.5" r="4.95"/><circle cx="783.5" cy="667.5" r="4.95"/>
<circle cx="784.5" cy="667.5" r="4.95"/><circle cx="785.5" cy="666.5" r="4.95"/><circle cx="786.5" cy="666.5" r="4.95"/><circle cx="788.5" cy="667.5" r="4.95"/><circle cx="789.5" cy="668.5" r="4.95"/><circle cx="790.5" cy="667.5" r="4.95"/><circle cx="791.5" cy="669.5" r="4.95"/><circle cx="792.5" cy="668.5" r="4.95"/>
<circle cx="793.5" cy="668.5" r="4.95"/><circle cx="794.5" cy="667.5" r="4.95"/><circle cx="795.5" cy="668.5" r="4.95"/><circle cx="796.5" cy="667.5" r="4.95"/><circle cx="797.5" cy="669.5" r="4.95"/><circle cx="798.5" cy="669.5" r="4.95"/><circle cx="799.5" cy="670.5" r="4.95"/><circle cx="800.5" cy="668.5" r="4.95"/>
<circle cx="801.5" cy="669.5" r="4.95"/><circle cx="802.5" cy="670.5" r="4.95"/><circle cx="804.5" cy="671.5" r="4.95"/><circle cx="805.5" cy="670.5" r="4.95"/><circle cx="806.5" cy="670.5" r="4.95"/><circle cx="807.5" cy="670.5" r="4.95"/><circle cx="808.5" cy="671.5" r="4.95"/><circle cx="809.5" cy="670.5" r="4.95"/>
<circle cx="810.5" cy="670.5" r="4.95"/><circle cx="811.5" cy="672.5" r="4.95"/><circle cx="812.5" cy="672.5" r="4.95"/><circle cx="813.5" cy="671.5" r="4.95"/><circle cx="814.5" cy="671.5" r="4.95"/><circle cx="815.5" cy="671.5" r="4.95"/><circle cx="816.5" cy="672.5" r="4.95"/><circle cx="817.5" cy="670.5" r="4.95"/>
<circle cx="818.5" cy="671.5" r="4.95"/><circle cx="820.5" cy="671.5" r="4.95"/><circle cx="821.5" cy="672.5" r="4.95"/><circle cx="822.5" cy="670.5" r="4.95"/><circle cx="823.5" cy="672.5" r="4.95"/><circle cx="824.5" cy="671.5" r="4.95"/><circle cx="825.5" cy="672.5" r="4.95"/><circle cx="826.5" cy="672.5" r="4.95"/>
<circle cx="827.5" cy="671.5" r="4.95"/><circle cx="828.5" cy="672.5" r="4.95"/><circle cx="829.5" cy="670.5" r="4.95"/><circle cx="830.5" cy="672.5" r="4.95"/><circle cx="831.5" cy="673.5" r="4.95"/><circle cx="832.5" cy="672.5" r="4.95"/><circle cx="833.5" cy="672.5" r="4.95"/><circle cx="834.5" cy="671.5" r="4.95"/>
<circle cx="836.5" cy="671.5" r="4.95"/><circle cx="837.5" cy="673.5" r="4.95"/><circle cx="838.5" cy="672.5" r="4.95"/><circle cx="839.5" cy="673.5" r="4.95"/><circle cx="840.5" cy="671.5" r="4.95"/><circle cx="841.5" cy="673.5" r="4.95"/><circle cx="842.5" cy="673.5" r="4.95"/><circle cx="843.5" cy="673.5" r="4.95"/>
<circle cx="844.5" cy="672.5" r="4.95"/><circle cx="845.5" cy="670.5" r="4.95"/><circle cx="846.5" cy="670.5" r="4.95"/><circle cx="847.5" cy="671.5" r="4.95"/><circle cx="848.5" cy="670.5" r="4.95"/><circle cx="849.5" cy="670.5" r="4.95"/><circle cx="850.5" cy="672.5" r="4.95"/><circle cx="852.5" cy="672.5" r="4.95"/>
<circle cx="853.5" cy="670.5" r="4.95"/><circle cx="854.5" cy="670.5" r="4.95"/><circle cx="855.5" cy="672.5" r="4.95"/><circle cx="856.5" cy="671.5" r="4.95"/><circle cx="857.5" cy="671.5" r="4.95"/><circle cx="858.5" cy="671.5" r="4.95"/><circle cx="859.5" cy="671.5" r="4.95"/><circle cx="860.5" cy="672.5" r="4.95"/>
<circle cx="861.5" cy="672.5" r="4.95"/><circle cx="862.5" cy="671.5" r="4.95"/><circle cx="863.5" cy="671.5" r="4.95"/><circle cx="864.5" cy="669.5" r="4.95"/><circle cx="865.5" cy="672.5" r="4.95"/><circle cx="866.5" cy="669.5" r="4.95"/><circle cx="868.5" cy="671.5" r="4.95"/><circle cx="869.5" cy="671.5" r="4.95"/>
<circle cx="870.5" cy="670.5" r="4.95"/><circle cx="871.5" cy="669.5" r="4.95"/><circle cx="872.5" cy="670.5" r="4.95"/><circle cx="873.5" cy="671.5" r="4.95"/><circle cx="874.5" cy="670.5" r="4.95"/><circle cx="875.5" cy="670.5" r="4.95"/><circle cx="876.5" cy="668.5" r="4.95"/><circle cx="877.5" cy="670.5" r="4.95"/>
<circle cx="878.5" cy="670.5" r="4.95"/><circle cx="879.5" cy="668.5" r="4.95"/><circle cx="880.5" cy="670.5" r="4.95"/><circle cx="881.5" cy="669.5" r="4.95"/><circle cx="882.5" cy="668.5" r="4.95"/><circle cx="883.5" cy="668.5" r="4.95"/><circle cx="885.5" cy="669.5" r="4.95"/><circle cx="886.5" cy="669.5" r="4.95"/>
<circle cx="887.5" cy="669.5" r="4.95"/><circle cx="888.5" cy="667.5" r="4.95"/><circle cx="889.5" cy="669.5" r="4.95"/><circle cx="890.5" cy="668.5" r="4.95"/><circle cx="891.5" cy="668.5" r="4.95"/><circle cx="892.5" cy="669.5" r="4.95"/><circle cx="893.5" cy="670.5" r="4.95"/><circle cx="894.5" cy="668.5" r="4.95"/>
<circle cx="895.5" cy="669.5" r="4.95"/><circle cx="896.5" cy="671.5" r="4.95"/><circle cx="897.5" cy="670.5" r="4.95"/><circle cx="898.5" cy="671.5" r="4.95"/><circle cx="899.5" cy="671.5" r="4.95"/><circle cx="901.5" cy="671.5" r="4.95"/><circle cx="902.5" cy="669.5" r="4.95"/><circle cx="903.5" cy="668.5" r="4.95"/>
<circle cx="904.5" cy="669.5" r="4.95"/><circle cx="905.5" cy="668.5" r="4.95"/><circle cx="906.5" cy="670.5" r="4.95"/><circle cx="907.5" cy="669.5" r="4.95"/><circle cx="908.5" cy="669.5" r="4.95"/><circle cx="909.5" cy="667.5" r="4.95"/><circle cx="910.5" cy="667.5" r="4.95"/><circle cx="911.5" cy="668.5" r="4.95"/>
<circle cx="912.5" cy="668.5" r="4.95"/><circle cx="913.5" cy="668.5" r="4.95"/><circle cx="914.5" cy="667.5" r="4.95"/><circle cx="915.5" cy="666.5" r="4.95"/><circle cx="917.5" cy="668.5" r="4.95"/><circle cx="918.5" cy="667.5" r="4.95"/><circle cx="919.5" cy="667.5" r="4.95"/><circle cx="920.5" cy="667.5" r="4.95"/>
<circle cx="921.5" cy="667.5" r="4.95"/><circle cx="922.5" cy="668.5" r="4.95"/><circle cx="923.5" cy="669.5" r="4.95"/><circle cx="924.5" cy="669.5" r="4.95"/><circle cx="925.5" cy="669.5" r="4.95"/><circle cx="926.5" cy="668.5" r="4.95"/><circle cx="927.5" cy="670.5" r="4.95"/><circle cx="928.5" cy="670.5" r="4.95"/>
<circle cx="929.5" cy="669.5" r="4.95"/><circle cx="930.5" cy="670.5" r="4.95"/><circle cx="931.5" cy="671.5" r="4.95"/><circle cx="933.5" cy="671.5" r="4.95"/><circle cx="934.5" cy="670.5" r="4.95"/><circle cx="935.5" cy="671.5" r="4.95"/><circle cx="936.5" cy="669.5" r="4.95"/><circle cx="937.5" cy="670.5" r="4.95"/>
<circle cx="938.5" cy="670.5" r="4.95"/><circle cx="939.5" cy="672.5" r="4.95"/><circle cx="940.5" cy="673.5" r="4.95"/><circle cx="941.5" cy="673.5" r="4.95"/><circle cx="942.5" cy="672.5" r="4.95"/><circle cx="943.5" cy="671.5" r="4.95"/><circle cx="944.5" cy="672.5" r="4.95"/><circle cx="945.5" cy="672.5" r="4.95"/>
<circle cx="946.5" cy="672.5" r="4.95"/><circle cx="947.5" cy="671.5" r="4.95"/><circle cx="949.5" cy="671.5" r="4.95"/><circle cx="950.5" cy="671.5" r="4.95"/><circle cx="951.5" cy="671.5" r="4.95"/><circle cx="952.5" cy="671.5" r="4.95"/><circle cx="953.5" cy="673.5" r="4.95"/><circle cx="954.5" cy="671.5" r="4.95"/>
<circle cx="955.5" cy="672.5" r="4.95"/><circle cx="956.5" cy="671.5" r="4.95"/><circle cx="957.5" cy="672.5" r="4.95"/><circle cx="958.5" cy="671.5" r="4.95"/><circle cx="959.5" cy="672.5" r="4.95"/><circle cx="960.5" cy="672.5" r="4.95"/><circle cx="961.5" cy="672.5" r="4.95"/><circle cx="962.5" cy="672.5" r="4.95"/>
<circle cx="963.5" cy="670.5" r="4.95"/><circle cx="965.5" cy="671.5" r="4.95"/><circle cx="966.5" cy="672.5" r="4.95"/><circle cx="967.5" cy="672.5" r="4.95"/><circle cx="968.5" cy="670.5" r="4.95"/><circle cx="969.5" cy="672.5" r="4.95"/><circle cx="970.5" cy="673.5" r="4.95"/><circle cx="971.5" cy="671.5" r="4.95"/>
<circle cx="972.5" cy="672.5" r="4.95"/><circle cx="973.5" cy="671.5" r="4.95"/><circle cx="974.5" cy="673.5" r="4.95"/><circle cx="975.5" cy="673.5" r="4.95"/><circle cx="976.5" cy="672.5" r="4.95"/><circle cx="977.5" cy="672.5" r="4.95"/><circle cx="978.5" cy="672.5" r="4.95"/><circle cx="979.5" cy="674.5" r="4.95"/>
<circle cx="980.5" cy="673.5" r="4.95"/><circle cx="982.5" cy="674.5" r="4.95"/><circle cx="983.5" cy="674.5" r="4.95"/><circle cx="984.5" cy="672.5" r="4.95"/><circle cx="985.5" cy="673.5" r="4.95"/><circle cx="986.5" cy="672.5" r="4.95"/><circle cx="987.5" cy="674.5" r="4.95"/><circle cx="988.5" cy="672.5" r="4.95"/>
<circle cx="989.5" cy="674.5" r="4.95"/><circle cx="990.5" cy="674.5" r="4.95"/><circle cx="991.5" cy="673.5" r="4.95"/><circle cx="992.5" cy="672.5" r="4.95"/><circle cx="993.5" cy="675.5" r="4.95"/><circle cx="994.5" cy="673.5" r="4.95"/><circle cx="995.5" cy="673.5" r="4.95"/><circle cx="996.5" cy="674.5" r="4.95"/>
<circle cx="998.5" cy="674.5" r="4.95"/><circle cx="999.5" cy="675.5" r="4.95"/><circle cx="1000.5" cy="675.5" r="4.95"/><circle cx="1001.5" cy="674.5" r="4.95"/><circle cx="1002.5" cy="674.5" r="4.95"/><circle cx="1003.5" cy="673.5" r="4.95"/><circle cx="1004.5" cy="675.5" r="4.95"/><circle cx="1005.5" cy="675.5" r="4.95"/>
<circle cx="1006.5" cy="674.5" r="4.95"/><circle cx="1007.5" cy="673.5" r="4.95"/><circle cx="1008.5" cy="675.5" r="4.95"/><circle cx="1009.5" cy="674.5" r="4.95"/><circle cx="1010.5" cy="675.5" r="4.95"/><circle cx="1011.5" cy="673.5" r="4.95"/><circle cx="1012.5" cy="674.5" r="4.95"/><circle cx="211.5" cy="466.5" r="4.95"/>
<circle cx="210.5" cy="490.5" r="4.95"/><circle cx="213.5" cy="494.5" r="4.95"/><circle cx="212.5" cy="544.5" r="4.95"/><circle cx="231.5" cy="548.5" r="4.95"/><circle cx="217.5" cy="529.5" r="4.95"/><circle cx="220.5" cy="532.5" r="4.95"/><circle cx="222.5" cy="518.5" r="4.95"/><circle cx="223.5" cy="524.5" r="4.95"/>
<circle cx="225.5" cy="532.5" r="4.95"/><circle cx="226.5" cy="519.5" r="4.95"/><circle cx="228.5" cy="527.5" r="4.95"/><circle cx="229.5" cy="518.5" r="4.95"/><circle cx="231.5" cy="523.5" r="4.95"/><circle cx="218.5" cy="524.5" r="4.95"/><circle cx="224.5" cy="518.5" r="4.95"/><circle cx="227.5" cy="530.5" r="4.95"/>
<circle cx="230.5" cy="527.5" r="4.95"/>
</g>
<g fill="#0000ff">
<circle cx="68.5" cy="688.5" r="4.95"/><circle cx="69.5" cy="687.5" r="4.95"/><circle cx="70.5" cy="686.5" r="4.95"/><circle cx="71.5" cy="687.5" r="4.95"/><circle cx="72.5" cy="685.5" r="4.95"/><circle cx="73.5" cy="685.5" r="4.95"/><circle cx="74.5" cy="685.5" r="4.95"/><circle cx="75.5" cy="683.5" r="4.95"/>
<circle cx="77.5" cy="681.5" r="4.95"/><circle cx="78.5" cy="682.5" r="4.95"/><circle cx="79.5" cy="681.5" r="4.95"/><circle cx="80.5" cy="683.5" r="4.95"/><circle cx="81.5" cy="680.5" r="4.95"/><circle cx="82.5" cy="683.5" r="4.95"/><circle cx="83.5" cy="683.5" r="4.95"/><circle cx="84.5" cy="685.5" r="4.95"/>
<circle cx="85.5" cy="685.5" r="4.95"/><circle cx="86.5" cy="683.5" r="4.95"/><circle cx="87.5" cy="689.5" r="4.95"/><circle cx="88.5" cy="688.5" r="4.95"/><circle cx="89.5" cy="686.5" r="4.95"/><circle cx="90.5" cy="685.5" r="4.95"/><circle cx="91.5" cy="685.5" r="4.95"/><circle cx="93.5" cy="682.5" r="4.95"/>
<circle cx="94.5" cy="683.5" r="4.95"/><circle cx="95.5" cy="684.5" r="4.95"/><circle cx="96.5" cy="682.5" r="4.95"/><circle cx="97.5" cy="683.5" r="4.95"/><circle cx="98.5" cy="681.5" r="4.95"/><circle cx="99.5" cy="682.5" r="4.95"/><circle cx="100.5" cy="681.5" r="4.95"/><circle cx="101.5" cy="680.5" r="4.95"/>
<circle cx="102.5" cy="681.5" r="4.95"/><circle cx="103.5" cy="683.5" r="4.95"/><circle cx="104.5" cy="684.5" r="4.95"/><circle cx="105.5" cy="681.5" r="4.95"/><circle cx="106.5" cy="680.5" r="4.95"/><circle cx="107.5" cy="682.5" r="4.95"/><circle cx="109.5" cy="680.5" r="4.95"/><circle cx="110.5" cy="679.5" r="4.95"/>
<circle cx="111.5" cy="679.5" r="4.95"/><circle cx="112.5" cy="682.5" r="4.95"/><circle cx="113.5" cy="680.5" r="4.95"/><circle cx="114.5" cy="678.5" r="4.95"/><circle cx="115.5" cy="677.5" r="4.95"/><circle cx="116.5" cy="676.5" r="4.95"/><circle cx="117.5" cy="680.5" r="4.95"/><circle cx="118.5" cy="678.5" r="4.95"/>
<circle cx="119.5" cy="677.5" r="4.95"/><circle cx="120.5" cy="674.5" r="4.95"/><circle cx="121.5" cy="677.5" r="4.95"/><circle cx="122.5" cy="677.5" r="4.95"/><circle cx="123.5" cy="677.5" r="4.95"/><circle cx="124.5" cy="675.5" r="4.95"/><circle cx="126.5" cy="677.5" r="4.95"/><circle cx="127.5" cy="675.5" r="4.95"/>
<circle cx="128.5" cy="677.5" r="4.95"/><circle cx="129.5" cy="676.5" r="4.95"/><circle cx="130.5" cy="677.5" r="4.95"/><circle cx="131.5" cy="676.5" r="4.95"/><circle cx="132.5" cy="677.5" r="4.95"/><circle cx="133.5" cy="679.5" r="4.95"/><circle cx="134.5" cy="676.5" r="4.95"/><circle cx="135.5" cy="677.5" r="4.95"/>
<circle cx="136.5" cy="679.5" r="4.95"/><circle cx="137.5" cy="680.5" r="4.95"/><circle cx="138.5" cy="679.5" r="4.95"/><circle cx="139.5" cy="683.5" r="4.95"/><circle cx="140.5" cy="683.5" r="4.95"/><circle cx="142.5" cy="683.5" r="4.95"/><circle cx="143.5" cy="683.5" r="4.95"/><circle cx="144.5" cy="684.5" r="4.95"/>
<circle cx="145.5" cy="687.5" r="4.95"/><circle cx="146.5" cy="684.5" r="4.95"/><circle cx="147.5" cy="684.5" r="4.95"/><circle cx="148.5" cy="684.5" r="4.95"/><circle cx="149.5" cy="685.5" r="4.95"/><circle cx="150.5" cy="685.5" r="4.95"/><circle cx="151.5" cy="685.5" r="4.95"/><circle cx="152.5" cy="686.5" r="4.95"/>
<circle cx="153.5" cy="687.5" r="4.95"/><circle cx="154.5" cy="687.5" r="4.95"/><circle cx="155.5" cy="687.5" r="4.95"/><circle cx="156.5" cy="688.5" r="4.95"/><circle cx="158.5" cy="686.5" r="4.95"/><circle cx="159.5" cy="689.5" r="4.95"/><circle cx="160.5" cy="687.5" r="4.95"/><circle cx="161.5" cy="688.5" r="4.95"/>
<circle cx="162.5" cy="685.5" r="4.95"/><circle cx="163.5" cy="682.5" r="4.95"/><circle cx="164.5" cy="681.5" r="4.95"/><circle cx="165.5" cy="681.5" r="4.95"/><circle cx="166.5" cy="679.5" r="4.95"/><circle cx="167.5" cy="677.5" r="4.95"/><circle cx="168.5" cy="678.5" r="4.95"/><circle cx="169.5" cy="677.5" r="4.95"/>
<circle cx="170.5" cy="676.5" r="4.95"/><circle cx="171.5" cy="676.5" r="4.95"/><circle cx="172.5" cy="675.5" r="4.95"/><circle cx="174.5" cy="674.5" r="4.95"/><circle cx="175.5" cy="674.5" r="4.95"/><circle cx="176.5" cy="673.5" r="4.95"/><circle cx="177.5" cy="673.5" r="4.95"/><circle cx="178.5" cy="673.5" r="4.95"/>
<circle cx="179.5" cy="672.5" r="4.95"/><circle cx="180.5" cy="672.5" r="4.95"/><circle cx="181.5" cy="677.5" r="4.95"/><circle cx="181.5" cy="671.5" r="4.95"/><circle cx="182.5" cy="665.5" r="4.95"/><circle cx="182.5" cy="673.5" r="4.95"/><circle cx="183.5" cy="671.5" r="4.95"/><circle cx="183.5" cy="665.5" r="4.95"/>
<circle cx="184.5" cy="674.5" r="4.95"/><circle cx="184.5" cy="677.5" r="4.95"/><circle cx="185.5" cy="668.5" r="4.95"/><circle cx="185.5" cy="672.5" r="4.95"/><circle cx="186.5" cy="679.5" r="4.95"/><circle cx="186.5" cy="670.5" r="4.95"/><circle cx="187.5" cy="664.5" r="4.95"/><circle cx="187.5" cy="675.5" r="4.95"/>
<circle cx="188.5" cy="672.5" r="4.95"/><circle cx="188.5" cy="664.5" r="4.95"/><circle cx="189.5" cy="677.5" r="4.95"/><circle cx="190.5" cy="680.5" r="4.95"/><circle cx="190.5" cy="668.5" r="4.95"/><circle cx="191.5" cy="673.5" r="4.95"/><circle cx="191.5" cy="681.5" r="4.95"/><circle cx="192.5" cy="670.5" r="4.95"/>
<circle cx="192.5" cy="661.5" r="4.95"/><circle cx="193.5" cy="675.5" r="4.95"/><circle cx="193.5" cy="670.5" r="4.95"/><circle cx="194.5" cy="661.5" r="4.95"/><circle cx="194.5" cy="675.5" r="4.95"/><circle cx="195.5" cy="680.5" r="4.95"/><circle cx="195.5" cy="665.5" r="4.95"/><circle cx="196.5" cy="671.5" r="4.95"/>
<circle cx="196.5" cy="681.5" r="4.95"/><circle cx="197.5" cy="669.5" r="4.95"/><circle cx="198.5" cy="661.5" r="4.95"/><circle cx="198.5" cy="675.5" r="4.95"/><circle cx="199.5" cy="671.5" r="4.95"/><circle cx="199.5" cy="663.5" r="4.95"/><circle cx="200.5" cy="676.5" r="4.95"/><circle cx="200.5" cy="680.5" r="4.95"/>
<circle cx="201.5" cy="669.5" r="4.95"/><circle cx="201.5" cy="674.5" r="4.95"/><circle cx="202.5" cy="682.5" r="4.95"/><circle cx="202.5" cy="673.5" r="4.95"/><circle cx="203.5" cy="672.5" r="4.95"/><circle cx="203.5" cy="680.5" r="4.95"/><circle cx="196.5" cy="658.5" r="4.95"/><circle cx="199.5" cy="665.5" r="4.95"/>
<circle cx="201.5" cy="670.5" r="4.95"/><circle cx="203.5" cy="677.5" r="4.95"/><circle cx="204.5" cy="684.5" r="4.95"/><circle cx="197.5" cy="681.5" r="4.95"/><circle cx="195.5" cy="676.5" r="4.95"/><circle cx="198.5" cy="673.5" r="4.95"/><circle cx="201.5" cy="680.5" r="4.95"/><circle cx="210.5" cy="617.5" r="4.95"/>
<circle cx="214.5" cy="617.5" r="4.95"/><circle cx="208.5" cy="627.5" r="4.95"/><circle cx="208.5" cy="632.5" r="4.95"/><circle cx="205.5" cy="641.5" r="4.95"/><circle cx="215.5" cy="635.5" r="4.95"/><circle cx="219.5" cy="638.5" r="4.95"/><circle cx="215.5" cy="643.5" r="4.95"/><circle cx="225.5" cy="626.5" r="4.95"/>
<circle cx="228.5" cy="630.5" r="4.95"/><circle cx="231.5" cy="632.5" r="4.95"/><circle cx="227.5" cy="638.5" r="4.95"/><circle cx="222.5" cy="641.5" r="4.95"/><circle cx="218.5" cy="652.5" r="4.95"/><circle cx="216.5" cy="656.5" r="4.95"/><circle cx="219.5" cy="662.5" r="4.95"/><circle cx="229.5" cy="649.5" r="4.95"/>
<circle cx="234.5" cy="653.5" r="4.95"/><circle cx="229.5" cy="656.5" r="4.95"/><circle cx="238.5" cy="662.5" r="4.95"/><circle cx="235.5" cy="667.5" r="4.95"/><circle cx="232.5" cy="674.5" r="4.95"/><circle cx="238.5" cy="680.5" r="4.95"/><circle cx="242.5" cy="684.5" r="4.95"/><circle cx="245.5" cy="685.5" r="4.95"/>
<circle cx="241.5" cy="692.5" r="4.95"/><circle cx="245.5" cy="696.5" r="4.95"/><circle cx="251.5" cy="697.5" r="4.95"/><circle cx="249.5" cy="691.5" r="4.95"/><circle cx="253.5" cy="679.5" r="4.95"/><circle cx="256.5" cy="671.5" r="4.95"/><circle cx="259.5" cy="677.5" r="4.95"/><circle cx="256.5" cy="684.5" r="4.95"/>
<circle cx="260.5" cy="691.5" r="4.95"/><circle cx="264.5" cy="680.5" r="4.95"/><circle cx="268.5" cy="684.5" r="4.95"/><circle cx="273.5" cy="673.5" r="4.95"/><circle cx="275.5" cy="678.5" r="4.95"/><circle cx="281.5" cy="675.5" r="4.95"/><circle cx="278.5" cy="683.5" r="4.95"/><circle cx="212.5" cy="622.5" r="4.95"/>
<circle cx="211.5" cy="636.5" r="4.95"/><circle cx="213.5" cy="640.5" r="4.95"/><circle cx="217.5" cy="640.5" r="4.95"/><circle cx="223.5" cy="633.5" r="4.95"/><circle cx="225.5" cy="635.5" r="4.95"/><circle cx="224.5" cy="630.5" r="4.95"/><circle cx="217.5" cy="647.5" r="4.95"/><circle cx="231.5" cy="644.5" r="4.95"/>
<circle cx="232.5" cy="659.5" r="4.95"/><circle cx="236.5" cy="672.5" r="4.95"/><circle cx="236.5" cy="677.5" r="4.95"/><circle cx="240.5" cy="688.5" r="4.95"/><circle cx="243.5" cy="690.5" r="4.95"/><circle cx="247.5" cy="693.5" r="4.95"/><circle cx="253.5" cy="686.5" r="4.95"/><circle cx="255.5" cy="676.5" r="4.95"/>
<circle cx="262.5" cy="684.5" r="4.95"/><circle cx="266.5" cy="686.5" r="4.95"/><circle cx="270.5" cy="680.5" r="4.95"/><circle cx="277.5" cy="676.5" r="4.95"/><circle cx="279.5" cy="678.5" r="4.95"/><circle cx="263.5" cy="688.5" r="4.95"/><circle cx="257.5" cy="680.5" r="4.95"/><circle cx="267.5" cy="677.5" r="4.95"/>
<circle cx="274.5" cy="683.5" r="4.95"/><circle cx="244.5" cy="695.5" r="4.95"/><circle cx="246.5" cy="698.5" r="4.95"/><circle cx="248.5" cy="699.5" r="4.95"/><circle cx="250.5" cy="698.5" r="4.95"/><circle cx="252.5" cy="695.5" r="4.95"/><circle cx="254.5" cy="681.5" r="4.95"/><circle cx="258.5" cy="674.5" r="4.95"/>
<circle cx="261.5" cy="686.5" r="4.95"/><circle cx="265.5" cy="683.5" r="4.95"/><circle cx="269.5" cy="681.5" r="4.95"/><circle cx="272.5" cy="677.5" r="4.95"/><circle cx="276.5" cy="680.5" r="4.95"/><circle cx="280.5" cy="677.5" r="4.95"/><circle cx="282.5" cy="681.5" r="4.95"/><circle cx="283.5" cy="684.5" r="4.95"/>
<circle cx="284.5" cy="688.5" r="4.95"/><circle cx="285.5" cy="689.5" r="4.95"/><circle cx="286.5" cy="690.5" r="4.95"/><circle cx="287.5" cy="691.5" r="4.95"/><circle cx="288.5" cy="691.5" r="4.95"/><circle cx="289.5" cy="692.5" r="4.95"/><circle cx="290.5" cy="693.5" r="4.95"/><circle cx="291.5" cy="693.5" r="4.95"/>
<circle cx="292.5" cy="694.5" r="4.95"/><circle cx="293.5" cy="694.5" r="4.95"/><circle cx="294.5" cy="696.5" r="4.95"/><circle cx="295.5" cy="697.5" r="4.95"/><circle cx="296.5" cy="698.5" r="4.95"/><circle cx="297.5" cy="698.5" r="4.95"/><circle cx="299.5" cy="697.5" r="4.95"/><circle cx="300.5" cy="699.5" r="4.95"/>
<circle cx="301.5" cy="698.5" r="4.95"/><circle cx="302.5" cy="697.5" r="4.95"/><circle cx="303.5" cy="697.5" r="4.95"/><circle cx="304.5" cy="697.5" r="4.95"/><circle cx="305.5" cy="698.5" r="4.95"/><circle cx="306.5" cy="696.5" r="4.95"/><circle cx="307.5" cy="696.5" r="4.95"/><circle cx="308.5" cy="696.5" r="4.95"/>
<circle cx="309.5" cy="696.5" r="4.95"/><circle cx="310.5" cy="696.5" r="4.95"/><circle cx="311.5" cy="696.5" r="4.95"/><circle cx="312.5" cy="696.5" r="4.95"/><circle cx="313.5" cy="696.5" r="4.95"/><circle cx="315.5" cy="697.5" r="4.95"/><circle cx="316.5" cy="696.5" r="4.95"/><circle cx="317.5" cy="696.5" r="4.95"/>
<circle cx="318.5" cy="695.5" r="4.95"/><circle cx="319.5" cy="696.5" r="4.95"/><circle cx="320.5" cy="696.5" r="4.95"/><circle cx="321.5" cy="695.5" r="4.95"/><circle cx="322.5" cy="695.5" r="4.95"/><circle cx="323.5" cy="695.5" r="4.95"/><circle cx="324.5" cy="694.5" r="4.95"/><circle cx="325.5" cy="696.5" r="4.95"/>
<circle cx="326.5" cy="697.5" r="4.95"/><circle cx="327.5" cy="696.5" r="4.95"/><circle cx="328.5" cy="696.5" r="4.95"/><circle cx="329.5" cy="696.5" r="4.95"/><circle cx="331.5" cy="696.5" r="4.95"/><circle cx="332.5" cy="697.5" r="4.95"/><circle cx="333.5" cy="698.5" r="4.95"/><circle cx="334.5" cy="697.5" r="4.95"/>
<circle cx="335.5" cy="698.5" r="4.95"/><circle cx="336.5" cy="699.5" r="4.95"/><circle cx="337.5" cy="699.5" r="4.95"/><circle cx="338.5" cy="697.5" r="4.95"/><circle cx="339.5" cy="697.5" r="4.95"/><circle cx="340.5" cy="697.5" r="4.95"/><circle cx="341.5" cy="698.5" r="4.95"/><circle cx="342.5" cy="697.5" r="4.95"/>
<circle cx="343.5" cy="697.5" r="4.95"/><circle cx="344.5" cy="695.5" r="4.95"/><circle cx="345.5" cy="695.5" r="4.95"/><circle cx="346.5" cy="695.5" r="4.95"/><circle cx="348.5" cy="693.5" r="4.95"/><circle cx="349.5" cy="693.5" r="4.95"/><circle cx="350.5" cy="692.5" r="4.95"/><circle cx="351.5" cy="690.5" r="4.95"/>
<circle cx="352.5" cy="689.5" r="4.95"/><circle cx="353.5" cy="688.5" r="4.95"/><circle cx="354.5" cy="687.5" r="4.95"/><circle cx="355.5" cy="687.5" r="4.95"/><circle cx="356.5" cy="686.5" r="4.95"/><circle cx="357.5" cy="685.5" r="4.95"/><circle cx="358.5" cy="687.5" r="4.95"/><circle cx="359.5" cy="689.5" r="4.95"/>
<circle cx="360.5" cy="691.5" r="4.95"/><circle cx="361.5" cy="692.5" r="4.95"/><circle cx="362.5" cy="693.5" r="4.95"/><circle cx="364.5" cy="695.5" r="4.95"/><circle cx="365.5" cy="696.5" r="4.95"/><circle cx="366.5" cy="698.5" r="4.95"/><circle cx="367.5" cy="696.5" r="4.95"/><circle cx="368.5" cy="694.5" r="4.95"/>
<circle cx="369.5" cy="693.5" r="4.95"/><circle cx="370.5" cy="693.5" r="4.95"/><circle cx="371.5" cy="692.5" r="4.95"/><circle cx="372.5" cy="693.5" r="4.95"/><circle cx="373.5" cy="694.5" r="4.95"/><circle cx="374.5" cy="695.5" r="4.95"/><circle cx="375.5" cy="696.5" r="4.95"/><circle cx="376.5" cy="696.5" r="4.95"/>
<circle cx="377.5" cy="695.5" r="4.95"/><circle cx="378.5" cy="695.5" r="4.95"/><circle cx="380.5" cy="695.5" r="4.95"/><circle cx="381.5" cy="695.5" r="4.95"/><circle cx="382.5" cy="695.5" r="4.95"/><circle cx="383.5" cy="694.5" r="4.95"/><circle cx="384.5" cy="692.5" r="4.95"/><circle cx="385.5" cy="692.5" r="4.95"/>
<circle cx="386.5" cy="689.5" r="4.95"/><circle cx="387.5" cy="684.5" r="4.95"/><circle cx="388.5" cy="683.5" r="4.95"/><circle cx="389.5" cy="688.5" r="4.95"/><circle cx="390.5" cy="693.5" r="4.95"/><circle cx="391.5" cy="696.5" r="4.95"/><circle cx="392.5" cy="698.5" r="4.95"/><circle cx="393.5" cy="698.5" r="4.95"/>
<circle cx="394.5" cy="698.5" r="4.95"/><circle cx="396.5" cy="699.5" r="4.95"/><circle cx="397.5" cy="700.5" r="4.95"/><circle cx="398.5" cy="700.5" r="4.95"/><circle cx="399.5" cy="700.5" r="4.95"/><circle cx="400.5" cy="699.5" r="4.95"/><circle cx="401.5" cy="699.5" r="4.95"/><circle cx="402.5" cy="699.5" r="4.95"/>
<circle cx="403.5" cy="697.5" r="4.95"/><circle cx="404.5" cy="697.5" r="4.95"/><circle cx="405.5" cy="697.5" r="4.95"/><circle cx="406.5" cy="697.5" r="4.95"/><circle cx="407.5" cy="696.5" r="4.95"/><circle cx="408.5" cy="695.5" r="4.95"/><circle cx="409.5" cy="695.5" r="4.95"/><circle cx="410.5" cy="695.5" r="4.95"/>
<circle cx="412.5" cy="695.5" r="4.95"/><circle cx="413.5" cy="694.5" r="4.95"/><circle cx="414.5" cy="695.5" r="4.95"/><circle cx="415.5" cy="695.5" r="4.95"/><circle cx="416.5" cy="696.5" r="4.95"/><circle cx="417.5" cy="698.5" r="4.95"/><circle cx="418.5" cy="698.5" r="4.95"/><circle cx="419.5" cy="696.5" r="4.95"/>
<circle cx="420.5" cy="694.5" r="4.95"/><circle cx="421.5" cy="692.5" r="4.95"/><circle cx="422.5" cy="690.5" r="4.95"/><circle cx="423.5" cy="687.5" r="4.95"/><circle cx="424.5" cy="687.5" r="4.95"/><circle cx="425.5" cy="687.5" r="4.95"/><circle cx="426.5" cy="688.5" r="4.95"/><circle cx="428.5" cy="687.5" r="4.95"/>
<circle cx="429.5" cy="688.5" r="4.95"/><circle cx="430.5" cy="688.5" r="4.95"/><circle cx="431.5" cy="689.5" r="4.95"/><circle cx="432.5" cy="688.5" r="4.95"/><circle cx="433.5" cy="690.5" r="4.95"/><circle cx="434.5" cy="691.5" r="4.95"/><circle cx="435.5" cy="692.5" r="4.95"/><circle cx="436.5" cy="693.5" r="4.95"/>
<circle cx="437.5" cy="695.5" r="4.95"/><circle cx="438.5" cy="697.5" r="4.95"/><circle cx="439.5" cy="696.5" r="4.95"/><circle cx="440.5" cy="698.5" r="4.95"/><circle cx="441.5" cy="699.5" r="4.95"/><circle cx="442.5" cy="700.5" r="4.95"/><circle cx="443.5" cy="700.5" r="4.95"/><circle cx="445.5" cy="701.5" r="4.95"/>
<circle cx="446.5" cy="700.5" r="4.95"/><circle cx="447.5" cy="700.5" r="4.95"/><circle cx="448.5" cy="700.5" r="4.95"/><circle cx="449.5" cy="700.5" r="4.95"/><circle cx="450.5" cy="699.5" r="4.95"/><circle cx="451.5" cy="700.5" r="4.95"/><circle cx="452.5" cy="700.5" r="4.95"/><circle cx="453.5" cy="701.5" r="4.95"/>
<circle cx="454.5" cy="701.5" r="4.95"/><circle cx="455.5" cy="701.5" r="4.95"/><circle cx="456.5" cy="701.5" r="4.95"/><circle cx="457.5" cy="701.5" r="4.95"/><circle cx="458.5" cy="702.5" r="4.95"/><circle cx="459.5" cy="702.5" r="4.95"/><circle cx="461.5" cy="702.5" r="4.95"/><circle cx="462.5" cy="701.5" r="4.95"/>
<circle cx="463.5" cy="701.5" r="4.95"/><circle cx="464.5" cy="701.5" r="4.95"/><circle cx="465.5" cy="698.5" r="4.95"/><circle cx="466.5" cy="698.5" r="4.95"/><circle cx="467.5" cy="698.5" r="4.95"/><circle cx="468.5" cy="697.5" r="4.95"/><circle cx="469.5" cy="697.5" r="4.95"/><circle cx="470.5" cy="695.5" r="4.95"/>
<circle cx="471.5" cy="692.5" r="4.95"/><circle cx="472.5" cy="690.5" r="4.95"/><circle cx="473.5" cy="689.5" r="4.95"/><circle cx="474.5" cy="687.5" r="4.95"/><circle cx="475.5" cy="686.5" r="4.95"/><circle cx="477.5" cy="686.5" r="4.95"/><circle cx="478.5" cy="686.5" r="4.95"/><circle cx="479.5" cy="685.5" r="4.95"/>
<circle cx="480.5" cy="685.5" r="4.95"/><circle cx="481.5" cy="684.5" r="4.95"/><circle cx="482.5" cy="685.5" r="4.95"/><circle cx="483.5" cy="687.5" r="4.95"/><circle cx="484.5" cy="689.5" r="4.95"/><circle cx="485.5" cy="690.5" r="4.95"/><circle cx="486.5" cy="691.5" r="4.95"/><circle cx="487.5" cy="693.5" r="4.95"/>
<circle cx="488.5" cy="694.5" r="4.95"/><circle cx="489.5" cy="695.5" r="4.95"/><circle cx="490.5" cy="696.5" r="4.95"/><circle cx="491.5" cy="697.5" r="4.95"/><circle cx="493.5" cy="698.5" r="4.95"/><circle cx="494.5" cy="697.5" r="4.95"/><circle cx="495.5" cy="698.5" r="4.95"/><circle cx="496.5" cy="697.5" r="4.95"/>
<circle cx="497.5" cy="696.5" r="4.95"/><circle cx="498.5" cy="697.5" r="4.95"/><circle cx="499.5" cy="696.5" r="4.95"/><circle cx="500.5" cy="696.5" r="4.95"/><circle cx="501.5" cy="697.5" r="4.95"/><circle cx="502.5" cy="696.5" r="4.95"/><circle cx="503.5" cy="696.5" r="4.95"/><circle cx="504.5" cy="695.5" r="4.95"/>
<circle cx="505.5" cy="697.5" r="4.95"/><circle cx="506.5" cy="696.5" r="4.95"/><circle cx="507.5" cy="696.5" r="4.95"/><circle cx="509.5" cy="696.5" r="4.95"/><circle cx="510.5" cy="696.5" r="4.95"/><circle cx="511.5" cy="696.5" r="4.95"/><circle cx="512.5" cy="697.5" r="4.95"/><circle cx="513.5" cy="697.5" r="4.95"/>
<circle cx="514.5" cy="698.5" r="4.95"/><circle cx="515.5" cy="697.5" r="4.95"/><circle cx="516.5" cy="697.5" r="4.95"/><circle cx="517.5" cy="697.5" r="4.95"/><circle cx="518.5" cy="697.5" r="4.95"/><circle cx="519.5" cy="697.5" r="4.95"/><circle cx="520.5" cy="697.5" r="4.95"/><circle cx="521.5" cy="698.5" r="4.95"/>
<circle cx="522.5" cy="698.5" r="4.95"/><circle cx="523.5" cy="697.5" r="4.95"/><circle cx="525.5" cy="697.5" r="4.95"/><circle cx="526.5" cy="697.5" r="4.95"/><circle cx="527.5" cy="696.5" r="4.95"/><circle cx="528.5" cy="697.5" r="4.95"/><circle cx="529.5" cy="697.5" r="4.95"/><circle cx="530.5" cy="696.5" r="4.95"/>
<circle cx="531.5" cy="697.5" r="4.95"/><circle cx="532.5" cy="697.5" r="4.95"/><circle cx="533.5" cy="698.5" r="4.95"/><circle cx="534.5" cy="698.5" r="4.95"/><circle cx="535.5" cy="698.5" r="4.95"/><circle cx="536.5" cy="699.5" r="4.95"/><circle cx="537.5" cy="699.5" r="4.95"/><circle cx="538.5" cy="699.5" r="4.95"/>
<circle cx="539.5" cy="698.5" r="4.95"/><circle cx="541.5" cy="699.5" r="4.95"/><circle cx="542.5" cy="699.5" r="4.95"/><circle cx="543.5" cy="699.5" r="4.95"/><circle cx="544.5" cy="699.5" r="4.95"/><circle cx="545.5" cy="698.5" r="4.95"/><circle cx="546.5" cy="699.5" r="4.95"/><circle cx="547.5" cy="698.5" r="4.95"/>
<circle cx="548.5" cy="698.5" r="4.95"/><circle cx="549.5" cy="698.5" r="4.95"/><circle cx="550.5" cy="700.5" r="4.95"/><circle cx="551.5" cy="698.5" r="4.95"/><circle cx="552.5" cy="698.5" r="4.95"/><circle cx="553.5" cy="699.5" r="4.95"/><circle cx="554.5" cy="698.5" r="4.95"/><circle cx="555.5" cy="698.5" r="4.95"/>
<circle cx="556.5" cy="697.5" r="4.95"/><circle cx="558.5" cy="698.5" r="4.95"/><circle cx="559.5" cy="697.5" r="4.95"/><circle cx="560.5" cy="697.5" r="4.95"/><circle cx="561.5" cy="696.5" r="4.95"/><circle cx="562.5" cy="697.5" r="4.95"/><circle cx="563.5" cy="697.5" r="4.95"/><circle cx="564.5" cy="698.5" r="4.95"/>
<circle cx="565.5" cy="699.5" r="4.95"/><circle cx="566.5" cy="698.5" r="4.95"/><circle cx="567.5" cy="698.5" r="4.95"/><circle cx="568.5" cy="698.5" r="4.95"/><circle cx="569.5" cy="698.5" r="4.95"/><circle cx="570.5" cy="699.5" r="4.95"/><circle cx="571.5" cy="700.5" r="4.95"/><circle cx="572.5" cy="700.5" r="4.95"/>
<circle cx="574.5" cy="701.5" r="4.95"/><circle cx="575.5" cy="701.5" r="4.95"/><circle cx="576.5" cy="701.5" r="4.95"/><circle cx="577.5" cy="701.5" r="4.95"/><circle cx="578.5" cy="702.5" r="4.95"/><circle cx="579.5" cy="702.5" r="4.95"/><circle cx="580.5" cy="702.5" r="4.95"/><circle cx="581.5" cy="703.5" r="4.95"/>
<circle cx="582.5" cy="703.5" r="4.95"/><circle cx="583.5" cy="702.5" r="4.95"/><circle cx="584.5" cy="703.5" r="4.95"/><circle cx="585.5" cy="703.5" r="4.95"/><circle cx="586.5" cy="703.5" r="4.95"/><circle cx="587.5" cy="703.5" r="4.95"/><circle cx="588.5" cy="702.5" r="4.95"/><circle cx="590.5" cy="703.5" r="4.95"/>
<circle cx="591.5" cy="703.5" r="4.95"/><circle cx="592.5" cy="703.5" r="4.95"/><circle cx="593.5" cy="703.5" r="4.95"/><circle cx="594.5" cy="703.5" r="4.95"/><circle cx="595.5" cy="703.5" r="4.95"/><circle cx="596.5" cy="702.5" r="4.95"/><circle cx="597.5" cy="702.5" r="4.95"/><circle cx="598.5" cy="703.5" r="4.95"/>
<circle cx="599.5" cy="703.5" r="4.95"/><circle cx="600.5" cy="703.5" r="4.95"/><circle cx="601.5" cy="702.5" r="4.95"/><circle cx="602.5" cy="703.5" r="4.95"/><circle cx="603.5" cy="703.5" r="4.95"/><circle cx="604.5" cy="703.5" r="4.95"/><circle cx="606.5" cy="702.5" r="4.95"/><circle cx="607.5" cy="702.5" r="4.95"/>
<circle cx="608.5" cy="703.5" r="4.95"/><circle cx="609.5" cy="703.5" r="4.95"/><circle cx="610.5" cy="702.5" r="4.95"/><circle cx="611.5" cy="703.5" r="4.95"/><circle cx="612.5" cy="703.5" r="4.95"/><circle cx="613.5" cy="703.5" r="4.95"/><circle cx="614.5" cy="703.5" r="4.95"/><circle cx="615.5" cy="703.5" r="4.95"/>
<circle cx="616.5" cy="702.5" r="4.95"/><circle cx="617.5" cy="702.5" r="4.95"/><circle cx="618.5" cy="701.5" r="4.95"/><circle cx="619.5" cy="700.5" r="4.95"/><circle cx="620.5" cy="699.5" r="4.95"/><circle cx="622.5" cy="698.5" r="4.95"/><circle cx="623.5" cy="699.5" r="4.95"/><circle cx="624.5" cy="698.5" r="4.95"/>
<circle cx="625.5" cy="698.5" r="4.95"/><circle cx="626.5" cy="698.5" r="4.95"/><circle cx="627.5" cy="698.5" r="4.95"/><circle cx="628.5" cy="698.5" r="4.95"/><circle cx="629.5" cy="699.5" r="4.95"/><circle cx="630.5" cy="699.5" r="4.95"/><circle cx="631.5" cy="700.5" r="4.95"/><circle cx="632.5" cy="699.5" r="4.95"/>
<circle cx="633.5" cy="698.5" r="4.95"/><circle cx="634.5" cy="699.5" r="4.95"/><circle cx="635.5" cy="700.5" r="4.95"/><circle cx="636.5" cy="702.5" r="4.95"/><circle cx="638.5" cy="701.5" r="4.95"/><circle cx="639.5" cy="702.5" r="4.95"/><circle cx="640.5" cy="700.5" r="4.95"/><circle cx="641.5" cy="701.5" r="4.95"/>
<circle cx="642.5" cy="702.5" r="4.95"/><circle cx="643.5" cy="702.5" r="4.95"/><circle cx="644.5" cy="702.5" r="4.95"/><circle cx="645.5" cy="701.5" r="4.95"/><circle cx="646.5" cy="700.5" r="4.95"/><circle cx="647.5" cy="702.5" r="4.95"/><circle cx="648.5" cy="701.5" r="4.95"/><circle cx="649.5" cy="701.5" r="4.95"/>
<circle cx="650.5" cy="701.5" r="4.95"/><circle cx="651.5" cy="701.5" r="4.95"/><circle cx="652.5" cy="701.5" r="4.95"/><circle cx="654.5" cy="701.5" r="4.95"/><circle cx="655.5" cy="701.5" r="4.95"/><circle cx="656.5" cy="702.5" r="4.95"/><circle cx="657.5" cy="703.5" r="4.95"/><circle cx="658.5" cy="703.5" r="4.95"/>
<circle cx="659.5" cy="703.5" r="4.95"/><circle cx="660.5" cy="703.5" r="4.95"/><circle cx="661.5" cy="703.5" r="4.95"/><circle cx="662.5" cy="703.5" r="4.95"/><circle cx="663.5" cy="703.5" r="4.95"/><circle cx="664.5" cy="702.5" r="4.95"/><circle cx="665.5" cy="701.5" r="4.95"/><circle cx="666.5" cy="701.5" r="4.95"/>
<circle cx="667.5" cy="702.5" r="4.95"/><circle cx="668.5" cy="702.5" r="4.95"/><circle cx="669.5" cy="703.5" r="4.95"/><circle cx="671.5" cy="703.5" r="4.95"/><circle cx="672.5" cy="703.5" r="4.95"/><circle cx="673.5" cy="703.5" r="4.95"/><circle cx="674.5" cy="702.5" r="4.95"/><circle cx="675.5" cy="702.5" r="4.95"/>
<circle cx="676.5" cy="702.5" r="4.95"/><circle cx="677.5" cy="702.5" r="4.95"/><circle cx="678.5" cy="703.5" r="4.95"/><circle cx="679.5" cy="702.5" r="4.95"/><circle cx="680.5" cy="701.5" r="4.95"/><circle cx="681.5" cy="701.5" r="4.95"/><circle cx="682.5" cy="702.5" r="4.95"/><circle cx="683.5" cy="703.5" r="4.95"/>
<circle cx="684.5" cy="702.5" r="4.95"/><circle cx="685.5" cy="701.5" r="4.95"/><circle cx="687.5" cy="701.5" r="4.95"/><circle cx="688.5" cy="701.5" r="4.95"/><circle cx="689.5" cy="700.5" r="4.95"/><circle cx="690.5" cy="700.5" r="4.95"/><circle cx="691.5" cy="700.5" r="4.95"/><circle cx="692.5" cy="700.5" r="4.95"/>
<circle cx="693.5" cy="700.5" r="4.95"/><circle cx="694.5" cy="701.5" r="4.95"/><circle cx="695.5" cy="701.5" r="4.95"/><circle cx="696.5" cy="701.5" r="4.95"/><circle cx="697.5" cy="701.5" r="4.95"/><circle cx="698.5" cy="700.5" r="4.95"/><circle cx="699.5" cy="700.5" r="4.95"/><circle cx="700.5" cy="700.5" r="4.95"/>
<circle cx="701.5" cy="697.5" r="4.95"/><circle cx="703.5" cy="696.5" r="4.95"/><circle cx="704.5" cy="696.5" r="4.95"/><circle cx="705.5" cy="697.5" r="4.95"/><circle cx="706.5" cy="696.5" r="4.95"/><circle cx="707.5" cy="695.5" r="4.95"/><circle cx="708.5" cy="695.5" r="4.95"/><circle cx="709.5" cy="696.5" r="4.95"/>
<circle cx="710.5" cy="696.5" r="4.95"/><circle cx="711.5" cy="696.5" r="4.95"/><circle cx="712.5" cy="696.5" r="4.95"/><circle cx="713.5" cy="696.5" r="4.95"/><circle cx="714.5" cy="697.5" r="4.95"/><circle cx="715.5" cy="698.5" r="4.95"/><circle cx="716.5" cy="697.5" r="4.95"/><circle cx="717.5" cy="697.5" r="4.95"/>
<circle cx="719.5" cy="696.5" r="4.95"/><circle cx="720.5" cy="696.5" r="4.95"/><circle cx="721.5" cy="694.5" r="4.95"/><circle cx="722.5" cy="694.5" r="4.95"/><circle cx="723.5" cy="695.5" r="4.95"/><circle cx="724.5" cy="696.5" r="4.95"/><circle cx="725.5" cy="695.5" r="4.95"/><circle cx="726.5" cy="696.5" r="4.95"/>
<circle cx="727.5" cy="696.5" r="4.95"/><circle cx="728.5" cy="696.5" r="4.95"/><circle cx="729.5" cy="696.5" r="4.95"/><circle cx="730.5" cy="697.5" r="4.95"/><circle cx="731.5" cy="698.5" r="4.95"/><circle cx="732.5" cy="699.5" r="4.95"/><circle cx="733.5" cy="698.5" r="4.95"/><circle cx="735.5" cy="698.5" r="4.95"/>
<circle cx="736.5" cy="697.5" r="4.95"/><circle cx="737.5" cy="700.5" r="4.95"/><circle cx="738.5" cy="701.5" r="4.95"/><circle cx="739.5" cy="702.5" r="4.95"/><circle cx="740.5" cy="702.5" r="4.95"/><circle cx="741.5" cy="702.5" r="4.95"/><circle cx="742.5" cy="700.5" r="4.95"/><circle cx="743.5" cy="700.5" r="4.95"/>
<circle cx="744.5" cy="701.5" r="4.95"/><circle cx="745.5" cy="702.5" r="4.95"/><circle cx="746.5" cy="703.5" r="4.95"/><circle cx="747.5" cy="703.5" r="4.95"/><circle cx="748.5" cy="703.5" r="4.95"/><circle cx="749.5" cy="703.5" r="4.95"/><circle cx="751.5" cy="703.5" r="4.95"/><circle cx="752.5" cy="703.5" r="4.95"/>
<circle cx="753.5" cy="703.5" r="4.95"/><circle cx="754.5" cy="702.5" r="4.95"/><circle cx="755.5" cy="702.5" r="4.95"/><circle cx="756.5" cy="703.5" r="4.95"/><circle cx="757.5" cy="702.5" r="4.95"/><circle cx="758.5" cy="703.5" r="4.95"/><circle cx="759.5" cy="702.5" r="4.95"/><circle cx="760.5" cy="703.5" r="4.95"/>
<circle cx="761.5" cy="703.5" r="4.95"/><circle cx="762.5" cy="703.5" r="4.95"/><circle cx="763.5" cy="703.5" r="4.95"/><circle cx="764.5" cy="703.5" r="4.95"/><circle cx="765.5" cy="703.5" r="4.95"/><circle cx="766.5" cy="703.5" r="4.95"/><circle cx="768.5" cy="703.5" r="4.95"/><circle cx="769.5" cy="703.5" r="4.95"/>
<circle cx="770.5" cy="703.5" r="4.95"/><circle cx="771.5" cy="703.5" r="4.95"/><circle cx="772.5" cy="703.5" r="4.95"/><circle cx="773.5" cy="703.5" r="4.95"/><circle cx="774.5" cy="703.5" r="4.95"/><circle cx="775.5" cy="703.5" r="4.95"/><circle cx="776.5" cy="703.5" r="4.95"/><circle cx="777.5" cy="703.5" r="4.95"/>
<circle cx="778.5" cy="703.5" r="4.95"/><circle cx="779.5" cy="703.5" r="4.95"/><circle cx="780.5" cy="703.5" r="4.95"/><circle cx="781.5" cy="703.5" r="4.95"/><circle cx="782.5" cy="703.5" r="4.95"/><circle cx="784.5" cy="703.5" r="4.95"/><circle cx="785.5" cy="703.5" r="4.95"/><circle cx="786.5" cy="703.5" r="4.95"/>
<circle cx="787.5" cy="703.5" r="4.95"/><circle cx="788.5" cy="703.5" r="4.95"/><circle cx="789.5" cy="703.5" r="4.95"/><circle cx="790.5" cy="703.5" r="4.95"/><circle cx="791.5" cy="703.5" r="4.95"/><circle cx="792.5" cy="703.5" r="4.95"/><circle cx="793.5" cy="703.5" r="4.95"/><circle cx="794.5" cy="703.5" r="4.95"/>
<circle cx="795.5" cy="703.5" r="4.95"/><circle cx="796.5" cy="703.5" r="4.95"/><circle cx="797.5" cy="703.5" r="4.95"/><circle cx="798.5" cy="703.5" r="4.95"/><circle cx="800.5" cy="703.5" r="4.95"/><circle cx="801.5" cy="703.5" r="4.95"/><circle cx="802.5" cy="703.5" r="4.95"/><circle cx="803.5" cy="703.5" r="4.95"/>
<circle cx="804.5" cy="703.5" r="4.95"/><circle cx="805.5" cy="703.5" r="4.95"/><circle cx="806.5" cy="703.5" r="4.95"/><circle cx="807.5" cy="703.5" r="4.95"/><circle cx="808.5" cy="703.5" r="4.95"/><circle cx="809.5" cy="703.5" r="4.95"/><circle cx="810.5" cy="703.5" r="4.95"/><circle cx="811.5" cy="703.5" r="4.95"/>
<circle cx="812.5" cy="703.5" r="4.95"/><circle cx="813.5" cy="703.5" r="4.95"/><circle cx="814.5" cy="703.5" r="4.95"/><circle cx="816.5" cy="703.5" r="4.95"/><circle cx="817.5" cy="703.5" r="4.95"/><circle cx="818.5" cy="703.5" r="4.95"/><circle cx="819.5" cy="703.5" r="4.95"/><circle cx="820.5" cy="703.5" r="4.95"/>
<circle cx="821.5" cy="703.5" r="4.95"/><circle cx="822.5" cy="703.5" r="4.95"/><circle cx="823.5" cy="703.5" r="4.95"/><circle cx="824.5" cy="703.5" r="4.95"/><circle cx="825.5" cy="703.5" r="4.95"/><circle cx="826.5" cy="703.5" r="4.95"/><circle cx="827.5" cy="703.5" r="4.95"/><circle cx="828.5" cy="703.5" r="4.95"/>
<circle cx="829.5" cy="703.5" r="4.95"/><circle cx="830.5" cy="703.5" r="4.95"/><circle cx="832.5" cy="703.5" r="4.95"/><circle cx="833.5" cy="703.5" r="4.95"/><circle cx="834.5" cy="703.5" r="4.95"/><circle cx="835.5" cy="703.5" r="4.95"/><circle cx="836.5" cy="703.5" r="4.95"/><circle cx="837.5" cy="703.5" r="4.95"/>
<circle cx="838.5" cy="703.5" r="4.95"/><circle cx="839.5" cy="703.5" r="4.95"/><circle cx="840.5" cy="703.5" r="4.95"/><circle cx="841.5" cy="703.5" r="4.95"/><circle cx="842.5" cy="703.5" r="4.95"/><circle cx="843.5" cy="703.5" r="4.95"/><circle cx="844.5" cy="703.5" r="4.95"/><circle cx="845.5" cy="703.5" r="4.95"/>
<circle cx="846.5" cy="703.5" r="4.95"/><circle cx="848.5" cy="703.5" r="4.95"/><circle cx="849.5" cy="703.5" r="4.95"/><circle cx="850.5" cy="703.5" r="4.95"/><circle cx="851.5" cy="703.5" r="4.95"/><circle cx="852.5" cy="703.5" r="4.95"/><circle cx="853.5" cy="703.5" r="4.95"/><circle cx="854.5" cy="703.5" r="4.95"/>
<circle cx="855.5" cy="703.5" r="4.95"/><circle cx="856.5" cy="703.5" r="4.95"/><circle cx="857.5" cy="703.5" r="4.95"/><circle cx="858.5" cy="703.5" r="4.95"/><circle cx="859.5" cy="703.5" r="4.95"/><circle cx="860.5" cy="703.5" r="4.95"/><circle cx="861.5" cy="703.5" r="4.95"/><circle cx="862.5" cy="703.5" r="4.95"/>
<circle cx="864.5" cy="703.5" r="4.95"/><circle cx="865.5" cy="703.5" r="4.95"/><circle cx="866.5" cy="703.5" r="4.95"/><circle cx="867.5" cy="703.5" r="4.95"/><circle cx="868.5" cy="703.5" r="4.95"/><circle cx="869.5" cy="703.5" r="4.95"/><circle cx="870.5" cy="703.5" r="4.95"/><circle cx="871.5" cy="703.5" r="4.95"/>
<circle cx="872.5" cy="703.5" r="4.95"/><circle cx="873.5" cy="703.5" r="4.95"/><circle cx="874.5" cy="703.5" r="4.95"/><circle cx="875.5" cy="703.5" r="4.95"/><circle cx="876.5" cy="703.5" r="4.95"/><circle cx="877.5" cy="703.5" r="4.95"/><circle cx="878.5" cy="703.5" r="4.95"/><circle cx="879.5" cy="703.5" r="4.95"/>
<circle cx="881.5" cy="703.5" r="4.95"/><circle cx="882.5" cy="703.5" r="4.95"/><circle cx="883.5" cy="703.5" r="4.95"/><circle cx="884.5" cy="703.5" r="4.95"/><circle cx="885.5" cy="703.5" r="4.95"/><circle cx="886.5" cy="703.5" r="4.95"/><circle cx="887.5" cy="703.5" r="4.95"/><circle cx="888.5" cy="703.5" r="4.95"/>
<circle cx="889.5" cy="703.5" r="4.95"/><circle cx="890.5" cy="703.5" r="4.95"/><circle cx="891.5" cy="703.5" r="4.95"/><circle cx="892.5" cy="703.5" r="4.95"/><circle cx="893.5" cy="703.5" r="4.95"/><circle cx="894.5" cy="703.5" r="4.95"/><circle cx="895.5" cy="703.5" r="4.95"/><circle cx="897.5" cy="703.5" r="4.95"/>
<circle cx="898.5" cy="703.5" r="4.95"/><circle cx="899.5" cy="703.5" r="4.95"/><circle cx="900.5" cy="703.5" r="4.95"/><circle cx="901.5" cy="703.5" r="4.95"/><circle cx="902.5" cy="703.5" r="4.95"/><circle cx="903.5" cy="703.5" r="4.95"/><circle cx="904.5" cy="703.5" r="4.95"/><circle cx="905.5" cy="703.5" r="4.95"/>
<circle cx="906.5" cy="703.5" r="4.95"/><circle cx="907.5" cy="703.5" r="4.95"/><circle cx="908.5" cy="703.5" r="4.95"/><circle cx="909.5" cy="703.5" r="4.95"/><circle cx="910.5" cy="703.5" r="4.95"/><circle cx="911.5" cy="703.5" r="4.95"/><circle cx="913.5" cy="703.5" r="4.95"/><circle cx="914.5" cy="703.5" r="4.95"/>
<circle cx="915.5" cy="703.5" r="4.95"/><circle cx="916.5" cy="703.5" r="4.95"/><circle cx="917.5" cy="703.5" r="4.95"/><circle cx="918.5" cy="703.5" r="4.95"/><circle cx="919.5" cy="703.5" r="4.95"/><circle cx="920.5" cy="703.5" r="4.95"/><circle cx="921.5" cy="703.5" r="4.95"/><circle cx="922.5" cy="703.5" r="4.95"/>
<circle cx="923.5" cy="703.5" r="4.95"/><circle cx="924.5" cy="703.5" r="4.95"/><circle cx="925.5" cy="703.5" r="4.95"/><circle cx="926.5" cy="703.5" r="4.95"/><circle cx="927.5" cy="703.5" r="4.95"/><circle cx="929.5" cy="703.5" r="4.95"/><circle cx="930.5" cy="703.5" r="4.95"/><circle cx="931.5" cy="703.5" r="4.95"/>
<circle cx="932.5" cy="703.5" r="4.95"/><circle cx="933.5" cy="703.5" r="4.95"/><circle cx="934.5" cy="703.5" r="4.95"/><circle cx="935.5" cy="703.5" r="4.95"/><circle cx="936.5" cy="703.5" r="4.95"/><circle cx="937.5" cy="703.5" r="4.95"/><circle cx="938.5" cy="703.5" r="4.95"/><circle cx="939.5" cy="703.5" r="4.95"/>
<circle cx="940.5" cy="703.5" r="4.95"/><circle cx="941.5" cy="703.5" r="4.95"/><circle cx="942.5" cy="703.5" r="4.95"/><circle cx="943.5" cy="703.5" r="4.95"/><circle cx="945.5" cy="703.5" r="4.95"/><circle cx="946.5" cy="703.5" r="4.95"/><circle cx="947.5" cy="703.5" r="4.95"/><circle cx="948.5" cy="703.5" r="4.95"/>
<circle cx="949.5" cy="703.5" r="4.95"/><circle cx="950.5" cy="703.5" r="4.95"/><circle cx="951.5" cy="703.5" r="4.95"/><circle cx="952.5" cy="703.5" r="4.95"/><circle cx="953.5" cy="703.5" r="4.95"/><circle cx="954.5" cy="703.5" r="4.95"/><circle cx="955.5" cy="703.5" r="4.95"/><circle cx="956.5" cy="703.5" r="4.95"/>
<circle cx="957.5" cy="703.5" r="4.95"/><circle cx="958.5" cy="703.5" r="4.95"/><circle cx="959.5" cy="703.5" r="4.95"/><circle cx="961.5" cy="703.5" r="4.95"/><circle cx="962.5" cy="703.5" r="4.95"/><circle cx="963.5" cy="703.5" r="4.95"/><circle cx="964.5" cy="703.5" r="4.95"/><circle cx="965.5" cy="703.5" r="4.95"/>
<circle cx="966.5" cy="703.5" r="4.95"/><circle cx="967.5" cy="703.5" r="4.95"/><circle cx="968.5" cy="703.5" r="4.95"/><circle cx="969.5" cy="703.5" r="4.95"/><circle cx="970.5" cy="703.5" r="4.95"/><circle cx="971.5" cy="703.5" r="4.95"/><circle cx="972.5" cy="703.5" r="4.95"/><circle cx="973.5" cy="703.5" r="4.95"/>
<circle cx="974.5" cy="703.5" r="4.95"/><circle cx="975.5" cy="703.5" r="4.95"/><circle cx="977.5" cy="703.5" r="4.95"/><circle cx="978.5" cy="703.5" r="4.95"/><circle cx="979.5" cy="703.5" r="4.95"/><circle cx="980.5" cy="703.5" r="4.95"/><circle cx="981.5" cy="703.5" r="4.95"/><circle cx="982.5" cy="703.5" r="4.95"/>
<circle cx="983.5" cy="703.5" r="4.95"/><circle cx="984.5" cy="703.5" r="4.95"/><circle cx="985.5" cy="703.5" r="4.95"/><circle cx="986.5" cy="703.5" r="4.95"/><circle cx="987.5" cy="703.5" r="4.95"/><circle cx="988.5" cy="703.5" r="4.95"/><circle cx="989.5" cy="703.5" r="4.95"/><circle cx="990.5" cy="703.5" r="4.95"/>
<circle cx="991.5" cy="703.5" r="4.95"/><circle cx="992.5" cy="703.5" r="4.95"/><circle cx="994.5" cy="703.5" r="4.95"/><circle cx="995.5" cy="703.5" r="4.95"/><circle cx="996.5" cy="703.5" r="4.95"/><circle cx="997.5" cy="703.5" r="4.95"/><circle cx="998.5" cy="703.5" r="4.95"/><circle cx="999.5" cy="703.5" r="4.95"/>
<circle cx="1000.5" cy="703.5" r="4.95"/><circle cx="1001.5" cy="703.5" r="4.95"/><circle cx="1002.5" cy="703.5" r="4.95"/><circle cx="1003.5" cy="703.5" r="4.95"/><circle cx="1004.5" cy="703.5" r="4.95"/><circle cx="1005.5" cy="703.5" r="4.95"/><circle cx="1006.5" cy="703.5" r="4.95"/><circle cx="1007.5" cy="703.5" r="4.95"/>
<circle cx="1008.5" cy="703.5" r="4.95"/><circle cx="1010.5" cy="703.5" r="4.95"/><circle cx="1011.5" cy="703.5" r="4.95"/><circle cx="1012.5" cy="703.5" r="4.95"/><circle cx="1013.5" cy="703.5" r="4.95"/><circle cx="79.5" cy="659.5" r="4.95"/><circle cx="78.5" cy="672.5" r="4.95"/><circle cx="324.5" cy="683.5" r="4.95"/>
<circle cx="370.5" cy="680.5" r="4.95"/><circle cx="369.5" cy="681.5" r="4.95"/><circle cx="211.5" cy="481.5" r="4.95"/><circle cx="212.5" cy="533.5" r="4.95"/>
</g>
</g>
<rect x="68.5" y="89.5" width="945.0" height="614.0" fill="none" stroke="#000" stroke-width="1.1"/>
<g stroke="#000" stroke-width="1.1"><line x1="63.3" x2="68.0" y1="703.5" y2="703.5"/><line x1="1014.0" x2="1018.7" y1="703.5" y2="703.5"/><line x1="63.3" x2="68.0" y1="641.5" y2="641.5"/><line x1="1014.0" x2="1018.7" y1="641.5" y2="641.5"/><line x1="63.3" x2="68.0" y1="580.5" y2="580.5"/><line x1="1014.0" x2="1018.7" y1="580.5" y2="580.5"/><line x1="63.3" x2="68.0" y1="519.5" y2="519.5"/><line x1="1014.0" x2="1018.7" y1="519.5" y2="519.5"/><line x1="63.3" x2="68.0" y1="457.5" y2="457.5"/><line x1="1014.0" x2="1018.7" y1="457.5" y2="457.5"/><line x1="63.3" x2="68.0" y1="396.5" y2="396.5"/><line x1="1014.0" x2="1018.7" y1="396.5" y2="396.5"/><line x1="63.3" x2="68.0" y1="334.5" y2="334.5"/><line x1="1014.0" x2="1018.7" y1="334.5" y2="334.5"/><line x1="63.3" x2="68.0" y1="273.5" y2="273.5"/><line x1="1014.0" x2="1018.7" y1="273.5" y2="273.5"/><line x1="63.3" x2="68.0" y1="211.5" y2="211.5"/><line x1="1014.0" x2="1018.7" y1="211.5" y2="211.5"/><line x1="63.3" x2="68.0" y1="150.5" y2="150.5"/><line x1="1014.0" x2="1018.7" y1="150.5" y2="150.5"/><line x1="63.3" x2="68.0" y1="89.5" y2="89.5"/><line x1="1014.0" x2="1018.7" y1="89.5" y2="89.5"/><line x1="107.5" x2="107.5" y1="704.0" y2="706.7"/><line x1="187.5" x2="187.5" y1="704.0" y2="706.7"/><line x1="266.5" x2="266.5" y1="704.0" y2="706.7"/><line x1="345.5" x2="345.5" y1="704.0" y2="706.7"/><line x1="424.5" x2="424.5" y1="704.0" y2="706.7"/><line x1="503.5" x2="503.5" y1="704.0" y2="706.7"/><line x1="583.5" x2="583.5" y1="704.0" y2="708.7"/><line x1="662.5" x2="662.5" y1="704.0" y2="706.7"/><line x1="741.5" x2="741.5" y1="704.0" y2="706.7"/><line x1="820.5" x2="820.5" y1="704.0" y2="706.7"/><line x1="899.5" x2="899.5" y1="704.0" y2="706.7"/><line x1="979.5" x2="979.5" y1="704.0" y2="706.7"/></g>
<g font-size="18.75"><text x="106.8" y="725.9" text-anchor="middle">12</text><text x="186.0" y="725.9" text-anchor="middle">14</text><text x="265.2" y="725.9" text-anchor="middle">16</text><text x="344.4" y="725.9" text-anchor="middle">18</text><text x="423.9" y="725.9" text-anchor="middle">20</text><text x="503.1" y="725.9" text-anchor="middle">22</text><text x="661.5" y="725.9" text-anchor="middle">02</text><text x="740.7" y="725.9" text-anchor="middle">04</text><text x="819.9" y="725.9" text-anchor="middle">06</text><text x="899.1" y="725.9" text-anchor="middle">08</text><text x="978.0" y="725.9" text-anchor="middle">10</text></g>
<g font-size="17.20" letter-spacing="0.5"><text x="59.0" y="709.8" text-anchor="end">0</text><text x="1023.6" y="709.8">0</text><text x="59.0" y="647.8" text-anchor="end">1</text><text x="1023.6" y="647.8">1</text><text x="59.0" y="586.8" text-anchor="end">2</text><text x="1023.6" y="586.8">2</text><text x="59.0" y="525.8" text-anchor="end">3</text><text x="1023.6" y="525.8">3</text><text x="59.0" y="463.8" text-anchor="end">4</text><text x="1023.6" y="463.8">4</text><text x="59.0" y="402.8" text-anchor="end">5</text><text x="1023.6" y="402.8">5</text><text x="59.0" y="340.8" text-anchor="end">6</text><text x="1023.6" y="340.8">6</text><text x="59.0" y="279.8" text-anchor="end">7</text><text x="1023.6" y="279.8">7</text><text x="59.0" y="217.8" text-anchor="end">8</text><text x="1023.6" y="217.8">8</text><text x="59.0" y="156.8" text-anchor="end">9</text><text x="1023.6" y="156.8">9</text><text x="59.5" y="95.8" text-anchor="end" letter-spacing="1.3">10</text><text x="1023.6" y="95.8">10</text><text x="583.0" y="726.7" text-anchor="middle">Feb-08</text></g>
<text x="540.3" y="751.4" font-size="20.8" letter-spacing="0.28" text-anchor="middle">Time (UTC)</text>
<text transform="translate(24.4 396.2) rotate(-90)" font-size="20.8" text-anchor="middle">Cloud Base (km)</text>
<text transform="translate(1067 396.2) rotate(-90)" font-size="20.8" text-anchor="middle">Integrated Moisture (mm liquid | cm vapor)</text>
<text x="540.3" y="81.3" font-size="28" text-anchor="middle">10 UTC 02/07/20 - 11 UTC 02/08/20</text>
<text x="536.1" y="35.8" font-size="33.4" text-anchor="middle">East Hampton, NY (EHAM) Derived MWR Products</text>
<rect x="766.7" y="98.5" width="236.8" height="120.7" rx="3" ry="3" fill="#fff" fill-opacity="0.8" stroke="#cccccc" stroke-width="1.1"/>
<circle cx="794.5" cy="116.3" r="4.9" fill="#000"/><circle cx="794.5" cy="145.1" r="4.9" fill="#f00"/><circle cx="794.5" cy="173.5" r="4.9" fill="#00f"/>
<line x1="773.1" x2="813.8" y1="199.9" y2="199.9" stroke="#008000" stroke-opacity="0.55" stroke-width="2"/>
<g font-size="19.5"><text x="829" y="120.8">Cloud Base</text><text x="829" y="149.7">Integrated Vapor</text><text x="829" y="178.5">Integrated Liquid</text><text x="829" y="206.9">Rain Flag</text></g>
<g fill="#eca80d"><polygon points="986.0,753.5 991.9,749.4 992.5,747.1 991.0,745.0 994.7,743.4 1004.8,743.9 1007.5,742.3 1010.0,741.2 1009.2,737.8 1012.6,735.2 1013.5,732.1 1016.3,730.1 1028.2,730.1 1028.8,735.2 1028.0,738.9 1029.1,744.4 1028.9,753.5 1028.3,760.9 1027.8,763.8 1025.9,766.4 1023.9,763.5 1020.4,760.7 1016.7,757.4 1010.3,756.3 986.0,756.3"/><polygon points="1023.2,769.2 1025.9,766.5 1031.4,765.1 1037.1,762.3 1038.9,763.6 1035.1,765.5 1029.6,767.4 1025.0,769.7"/></g>
<text x="1008.4" y="754.5" font-size="14.6" font-weight="bold" style="fill:#fff;stroke:#fff;stroke-width:0.6;font-family:'Liberation Sans',sans-serif" textLength="17.6" lengthAdjust="spacingAndGlyphs">NYS</text>
<text x="1031.2" y="754.5" font-size="14.6" font-weight="bold" style="fill:#4b236e;stroke:#4b236e;stroke-width:0.6;font-family:'Liberation Sans',sans-serif" textLength="41.8" lengthAdjust="spacingAndGlyphs">Mesonet</text>
<text x="1031.2" y="759.8" font-size="3" font-weight="bold" style="fill:#4b236e;font-family:'Liberation Sans',sans-serif" textLength="42" lengthAdjust="spacingAndGlyphs">UNIVERSITY AT ALBANY</text>
</svg></body></html>
